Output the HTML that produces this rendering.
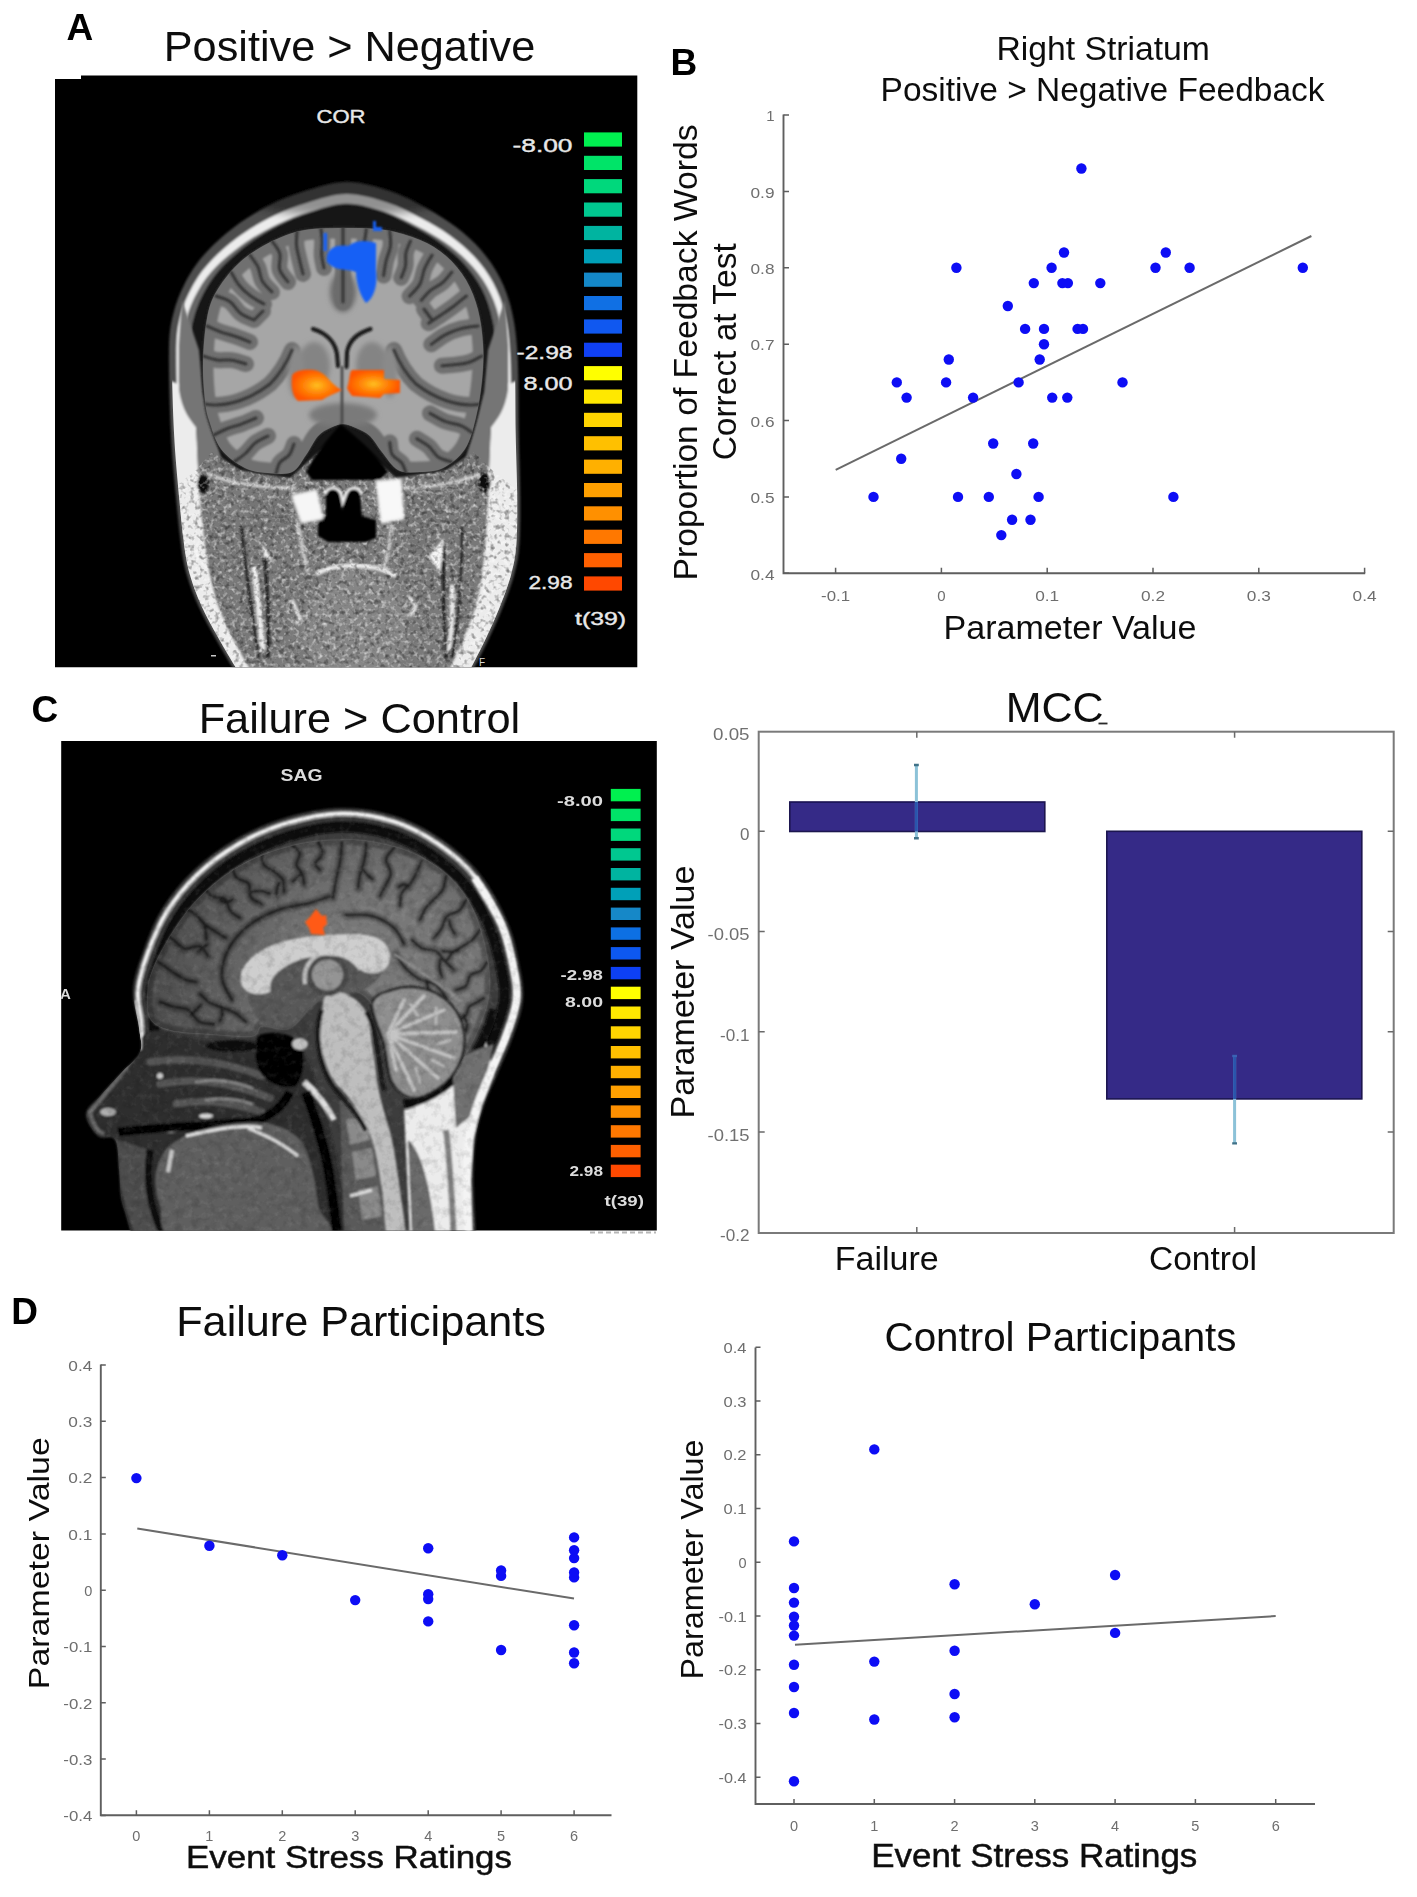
<!DOCTYPE html>
<html><head><meta charset="utf-8"><title>Figure</title>
<style>
html,body{margin:0;padding:0;background:#fff;}
body{width:1417px;height:1897px;overflow:hidden;font-family:"Liberation Sans",sans-serif;}
svg{display:block;position:absolute;left:0;top:0;}
text{font-family:"Liberation Sans",sans-serif;}
</style></head><body>
<svg width="1417" height="1897" viewBox="0 0 1417 1897">
<defs><filter id="soft" x="0" y="0" width="100%" height="100%" filterUnits="userSpaceOnUse"><feGaussianBlur stdDeviation="0.55"/></filter></defs>
<rect width="1417" height="1897" fill="#fff"/>
<g id="brainA">
<defs>
<filter id="bA" x="-5%" y="-5%" width="110%" height="110%"><feGaussianBlur stdDeviation="1.1"/></filter>
<filter id="bA2" x="-10%" y="-10%" width="120%" height="120%"><feGaussianBlur stdDeviation="2.4"/></filter>
<filter id="bA3" x="-20%" y="-20%" width="140%" height="140%"><feGaussianBlur stdDeviation="4"/></filter>
<filter id="nzA" x="0" y="0" width="100%" height="100%"><feTurbulence type="fractalNoise" baseFrequency="0.22" numOctaves="2" seed="7"/><feColorMatrix type="matrix" values="0 0 0 0 1  0 0 0 0 1  0 0 0 0 1  1.6 0 0 0 -0.78"/><feComposite in2="SourceGraphic" operator="in"/></filter>
<filter id="nzAd" x="0" y="0" width="100%" height="100%"><feTurbulence type="fractalNoise" baseFrequency="0.2" numOctaves="2" seed="23"/><feColorMatrix type="matrix" values="0 0 0 0 0  0 0 0 0 0  0 0 0 0 0  0 1.2 0 0 -0.6"/><feComposite in2="SourceGraphic" operator="in"/></filter>
<filter id="nzAf" x="0" y="0" width="100%" height="100%"><feTurbulence type="fractalNoise" baseFrequency="0.2" numOctaves="1" seed="3"/><feColorMatrix type="matrix" values="0 0 0 0 0.25  0 0 0 0 0.25  0 0 0 0 0.25  0 0 3.0 0 -1.25"/><feComposite in2="SourceGraphic" operator="in"/></filter>
<clipPath id="clA"><path d="M55 79H81V75.5H637.3V667.3H55Z"/></clipPath>
<clipPath id="headA"><path d="M233.0 668.0C230.2 663.2 221.7 649.2 216.0 639.0C210.3 628.8 203.8 617.7 199.0 607.0C194.2 596.3 190.0 585.5 187.0 575.0C184.0 564.5 182.8 557.2 181.0 544.0C179.2 530.8 177.7 514.5 176.0 496.0C174.3 477.5 172.2 457.0 171.0 433.0C169.8 409.0 168.7 371.7 169.0 352.0C169.3 332.3 170.3 326.5 173.0 315.0C175.7 303.5 179.8 293.1 185.0 283.0C190.2 272.9 195.7 264.1 204.0 254.7C212.3 245.3 224.0 234.8 235.0 226.5C246.0 218.2 258.3 210.9 270.0 205.0C281.7 199.1 292.2 194.8 305.0 191.0C317.8 187.2 332.8 182.0 347.0 182.0C361.2 182.0 376.8 186.7 390.0 191.0C403.2 195.3 415.0 202.0 426.0 208.0C437.0 214.0 446.8 220.0 456.0 227.0C465.2 234.0 473.7 241.5 481.0 250.0C488.3 258.5 494.8 267.7 500.0 278.0C505.2 288.3 509.1 299.0 512.0 312.0C514.9 325.0 516.5 335.8 517.6 356.0C518.7 376.2 518.3 409.7 518.7 433.0C519.1 456.3 520.1 477.5 520.2 496.0C520.3 514.5 520.4 530.8 519.4 544.0C518.4 557.2 516.8 564.5 514.0 575.0C511.2 585.5 507.0 596.3 502.8 607.0C498.6 617.7 493.4 628.8 488.6 639.0C483.8 649.2 476.4 663.2 474.0 668.0Z"/></clipPath>
<clipPath id="headAi"><path d="M236.0 668.0C233.2 663.2 224.7 649.2 219.0 639.0C213.3 628.8 206.8 617.7 202.0 607.0C197.2 596.3 193.0 585.5 190.0 575.0C187.0 564.5 185.8 557.2 184.0 544.0C182.2 530.8 180.7 514.5 179.0 496.0C177.3 477.5 175.2 456.9 174.0 433.0C172.8 409.1 171.7 372.0 172.0 352.5C172.3 333.0 173.2 327.4 175.8 316.1C178.4 304.8 182.5 294.5 187.6 284.6C192.6 274.7 198.0 266.0 206.2 256.7C214.4 247.4 225.9 237.1 236.7 228.9C247.6 220.8 259.7 213.6 271.2 207.8C282.6 201.9 293.0 197.7 305.6 193.9C318.2 190.1 333.0 185.0 346.9 185.0C360.9 185.0 376.3 189.6 389.3 193.9C402.2 198.2 413.9 204.8 424.7 210.7C435.5 216.6 445.2 222.5 454.2 229.4C463.2 236.3 471.6 243.7 478.8 252.1C486.0 260.4 492.4 269.5 497.5 279.6C502.6 289.8 506.4 300.3 509.2 313.1C512.1 325.9 513.5 336.4 514.6 356.4C515.7 376.4 515.3 409.7 515.7 433.0C516.1 456.3 517.1 477.5 517.2 496.0C517.3 514.5 517.4 530.8 516.4 544.0C515.4 557.2 513.8 564.5 511.0 575.0C508.2 585.5 504.0 596.3 499.8 607.0C495.6 617.7 490.4 628.8 485.6 639.0C480.8 649.2 473.4 663.2 471.0 668.0Z"/></clipPath>
<clipPath id="topA"><rect x="150" y="170" width="400" height="330"/></clipPath>
</defs>
<path d="M55 79H81V75.5H637.3V667.3H55Z" fill="#000"/>
<g clip-path="url(#clA)">
<g filter="url(#bA)">
<path d="M233.0 668.0C230.2 663.2 221.7 649.2 216.0 639.0C210.3 628.8 203.8 617.7 199.0 607.0C194.2 596.3 190.0 585.5 187.0 575.0C184.0 564.5 182.8 557.2 181.0 544.0C179.2 530.8 177.7 514.5 176.0 496.0C174.3 477.5 172.2 457.0 171.0 433.0C169.8 409.0 168.7 371.7 169.0 352.0C169.3 332.3 170.3 326.5 173.0 315.0C175.7 303.5 179.8 293.1 185.0 283.0C190.2 272.9 195.7 264.1 204.0 254.7C212.3 245.3 224.0 234.8 235.0 226.5C246.0 218.2 258.3 210.9 270.0 205.0C281.7 199.1 292.2 194.8 305.0 191.0C317.8 187.2 332.8 182.0 347.0 182.0C361.2 182.0 376.8 186.7 390.0 191.0C403.2 195.3 415.0 202.0 426.0 208.0C437.0 214.0 446.8 220.0 456.0 227.0C465.2 234.0 473.7 241.5 481.0 250.0C488.3 258.5 494.8 267.7 500.0 278.0C505.2 288.3 509.1 299.0 512.0 312.0C514.9 325.0 516.5 335.8 517.6 356.0C518.7 376.2 518.3 409.7 518.7 433.0C519.1 456.3 520.1 477.5 520.2 496.0C520.3 514.5 520.4 530.8 519.4 544.0C518.4 557.2 516.8 564.5 514.0 575.0C511.2 585.5 507.0 596.3 502.8 607.0C498.6 617.7 493.4 628.8 488.6 639.0C483.8 649.2 476.4 663.2 474.0 668.0Z" fill="#4e4e4e"/>
<g clip-path="url(#topA)">
<path d="M240.5 668.0C237.7 663.2 229.2 649.2 223.5 639.0C217.8 628.8 211.3 617.7 206.5 607.0C201.7 596.3 197.5 585.5 194.5 575.0C191.5 564.5 190.3 557.2 188.5 544.0C186.7 530.8 185.2 514.5 183.5 496.0C181.8 477.5 179.7 456.8 178.5 433.0C177.3 409.2 176.2 372.4 176.4 353.2C176.7 334.0 177.4 328.7 180.0 317.7C182.6 306.7 186.8 296.7 192.0 287.3C197.1 277.8 202.8 269.6 211.0 261.0C219.1 252.3 230.5 242.7 241.1 235.1C251.6 227.5 263.4 220.9 274.4 215.5C285.5 210.1 295.3 206.3 307.4 202.7C319.5 199.1 333.5 194.0 346.8 194.0C360.1 194.0 374.8 198.6 387.1 202.6C399.5 206.6 410.7 212.7 421.1 218.2C431.6 223.6 441.0 229.0 449.8 235.4C458.6 241.8 466.9 248.7 474.1 256.6C481.3 264.4 487.8 272.9 493.0 282.6C498.1 292.3 502.2 302.4 505.0 314.8C507.9 327.2 509.1 337.3 510.2 357.0C511.2 376.7 510.8 409.8 511.2 433.0C511.6 456.2 512.6 477.5 512.7 496.0C512.8 514.5 512.9 530.8 511.9 544.0C510.9 557.2 509.3 564.5 506.5 575.0C503.7 585.5 499.5 596.3 495.3 607.0C491.1 617.7 485.9 628.8 481.1 639.0C476.3 649.2 468.9 663.2 466.5 668.0Z" fill="#ececec"/>
<path d="M247.0 668.0C244.2 663.2 235.7 649.2 230.0 639.0C224.3 628.8 217.8 617.7 213.0 607.0C208.2 596.3 204.0 585.5 201.0 575.0C198.0 564.5 196.8 557.2 195.0 544.0C193.2 530.8 191.7 514.5 190.0 496.0C188.3 477.5 186.2 456.6 185.0 433.0C183.8 409.4 182.6 373.1 182.8 354.2C183.0 335.4 183.6 330.5 186.1 320.0C188.6 309.4 192.8 299.9 197.9 290.9C203.0 281.9 208.7 274.3 216.7 266.1C224.7 258.0 235.8 249.1 246.0 242.0C256.2 235.0 267.4 228.9 277.9 223.9C288.5 218.9 297.8 215.4 309.3 212.0C320.7 208.6 334.0 203.5 346.6 203.5C359.2 203.5 373.1 208.0 384.9 211.8C396.6 215.6 407.3 221.2 417.2 226.3C427.2 231.4 436.2 236.3 444.8 242.3C453.3 248.2 461.3 254.6 468.3 262.0C475.4 269.3 481.9 277.3 487.0 286.5C492.1 295.7 496.2 305.3 499.0 317.2C501.8 329.1 502.8 338.6 503.7 357.9C504.7 377.2 504.3 410.0 504.7 433.0C505.1 456.0 506.1 477.5 506.2 496.0C506.3 514.5 506.4 530.8 505.4 544.0C504.4 557.2 502.8 564.5 500.0 575.0C497.2 585.5 493.0 596.3 488.8 607.0C484.6 617.7 479.4 628.8 474.6 639.0C469.8 649.2 462.4 663.2 460.0 668.0Z" fill="#666"/>
<ellipse cx="345" cy="196" rx="105" ry="20" fill="#000" opacity="0.38" filter="url(#bA3)"/>
<path d="M254.0 668.0C251.2 663.2 242.7 649.2 237.0 639.0C231.3 628.8 224.8 617.7 220.0 607.0C215.2 596.3 211.0 585.5 208.0 575.0C205.0 564.5 203.8 557.2 202.0 544.0C200.2 530.8 198.7 514.5 197.0 496.0C195.3 477.5 193.2 456.4 192.0 433.0C190.8 409.6 189.6 373.7 189.7 355.3C189.8 336.9 190.4 332.7 192.6 322.5C194.9 312.3 198.5 303.0 203.1 294.1C207.7 285.2 212.7 277.4 220.1 269.1C227.5 260.9 237.9 251.7 247.7 244.5C257.5 237.2 268.3 230.8 278.6 225.6C288.9 220.3 298.2 216.5 309.5 213.0C320.8 209.5 334.1 204.5 346.6 204.5C359.1 204.5 373.0 208.9 384.6 212.8C396.3 216.8 406.7 222.8 416.4 228.1C426.1 233.4 434.8 238.6 443.0 244.7C451.1 250.9 458.7 257.4 465.2 264.9C471.8 272.4 477.6 280.5 482.2 289.6C486.7 298.8 490.1 308.3 492.5 319.9C495.0 331.4 495.9 340.0 496.8 358.9C497.7 377.7 497.3 410.1 497.7 433.0C498.1 455.9 499.1 477.5 499.2 496.0C499.3 514.5 499.4 530.8 498.4 544.0C497.4 557.2 495.8 564.5 493.0 575.0C490.2 585.5 486.0 596.3 481.8 607.0C477.6 617.7 472.4 628.8 467.6 639.0C462.8 649.2 455.4 663.2 453.0 668.0Z" fill="#161616"/>
</g>
</g>
<g clip-path="url(#headAi)">
<g filter="url(#bA)">
<path d="M196 470L212 452L240 470L290 478L343 430L396 478L446 470L474 452L492 470L530 500L530 680L160 680L160 500Z" fill="#7a7a7a"/>
</g>
<g filter="url(#bA)">
<path d="M168 380L179 384C180 400 186 414 196 427C198 450 198 480 200 500C204 540 208 575 218 605C228 632 240 652 252 672L225 672C200 640 185 600 178 560C172 500 168 440 168 380Z" fill="#ececec"/>
<path d="M519 380L508 384C507 400 501 414 491 427C489 450 489 480 488 500C486 540 484 575 476 605C468 632 458 652 448 672L480 672C502 640 514 600 518 560C522 500 521 440 519 380Z" fill="#ececec"/>
<path d="M182 300L179 345L179 390C182 410 190 420 196 427L198 470L209 476L225 470C219 451 213 430 203 392L199 350Z" fill="#747474"/>
<path d="M505 300L508 345L508 390C505 410 497 420 491 427L489 470L478 476L462 470C468 451 474 430 484 392L488 350Z" fill="#747474"/>
<path d="M206 500C208 550 216 600 240 652L262 656C250 610 244 560 242 522Z" fill="#787878"/>
<path d="M486 500C484 550 476 600 454 652L440 656C448 610 450 560 452 522Z" fill="#787878"/>
<path d="M241 526C246 575 252 620 259 658M264 552C268 590 269 625 268 658" stroke="#101010" stroke-width="2.6" fill="none"/>
<path d="M444 545C443 580 444 620 446 658M462 526C462 580 458 625 452 658" stroke="#101010" stroke-width="2.6" fill="none"/>
<path d="M254 566C258 600 260 625 263 650" stroke="#e8e8e8" stroke-width="5.5" fill="none"/>
<path d="M452 585C453 605 452 628 449 650" stroke="#e8e8e8" stroke-width="4" fill="none"/>
<path d="M429 556L444 538L440 572Z" fill="#f6f6f6"/>
<path d="M258 538L274 562L264 556Z" fill="#e8e8e8"/>
<path d="M208 474C232 484 262 488 296 488" stroke="#cfcfcf" stroke-width="3" fill="none"/>
<path d="M480 474C456 484 426 488 392 488" stroke="#cfcfcf" stroke-width="3" fill="none"/>
<ellipse cx="203" cy="484" rx="6" ry="9" fill="#080808"/>
<ellipse cx="484.5" cy="483" rx="6" ry="10" fill="#080808"/>
<path d="M246 496L292 494L296 530L270 548L250 530Z" fill="#747474"/>
<path d="M440 496L398 492L392 530L416 552L436 530Z" fill="#747474"/>
<path d="M298 524C302 545 304 560 308 572M392 524C390 545 386 560 384 572" stroke="#c4c4c4" stroke-width="4" fill="none"/>
<ellipse cx="356" cy="628" rx="54" ry="60" fill="#868686"/>
<path d="M316 574C336 563 372 562 396 576" stroke="#e6e6e6" stroke-width="4.5" fill="none"/>
<path d="M292 600L300 618L296 624M408 596L416 606L410 616" stroke="#e0e0e0" stroke-width="3.5" fill="none"/>
</g>
<g filter="url(#nzA)"><path d="M196 470L212 452L240 470L290 478L343 430L396 478L446 470L474 452L492 470L530 500L530 680L160 680L160 500Z"/></g>
<g filter="url(#nzAd)"><path d="M196 470L212 452L240 470L290 478L343 430L396 478L446 470L474 452L492 470L530 500L530 680L160 680L160 500Z"/></g>
</g>
<clipPath id="brA"><path d="M343.0 228.0C328.8 228.2 313.3 228.0 300.0 231.0C286.7 234.0 273.8 240.0 263.0 246.0C252.2 252.0 243.2 258.5 235.0 267.0C226.8 275.5 218.3 287.3 213.5 297.0C208.7 306.7 207.8 313.7 206.0 325.0C204.2 336.3 203.2 352.5 203.0 365.0C202.8 377.5 204.0 390.8 205.0 400.0C206.0 409.2 206.3 411.8 209.0 420.0C211.7 428.2 215.0 441.0 221.0 449.0C227.0 457.0 237.2 464.0 245.0 468.0C252.8 472.0 260.2 472.3 268.0 473.0C275.8 473.7 285.7 475.0 292.0 472.0C298.3 469.0 301.7 461.0 306.0 455.0C310.3 449.0 314.0 440.5 318.0 436.0C322.0 431.5 325.8 430.0 330.0 428.0C334.2 426.0 338.7 424.0 343.0 424.0C347.3 424.0 351.5 426.0 356.0 428.0C360.5 430.0 365.7 432.0 370.0 436.0C374.3 440.0 377.3 446.3 382.0 452.0C386.7 457.7 391.7 466.7 398.0 470.0C404.3 473.3 412.5 472.3 420.0 472.0C427.5 471.7 435.5 471.8 443.0 468.0C450.5 464.2 459.5 457.5 465.0 449.0C470.5 440.5 473.2 428.5 476.0 417.0C478.8 405.5 480.8 392.0 482.0 380.0C483.2 368.0 483.7 356.7 483.0 345.0C482.3 333.3 480.8 320.8 478.0 310.0C475.2 299.2 471.3 289.0 466.0 280.0C460.7 271.0 453.7 262.7 446.0 256.0C438.3 249.3 430.2 244.3 420.0 240.0C409.8 235.7 397.8 232.0 385.0 230.0C372.2 228.0 357.2 227.8 343.0 228.0Z"/></clipPath>
<g filter="url(#bA)">
<path d="M343.0 228.0C328.8 228.2 313.3 228.0 300.0 231.0C286.7 234.0 273.8 240.0 263.0 246.0C252.2 252.0 243.2 258.5 235.0 267.0C226.8 275.5 218.3 287.3 213.5 297.0C208.7 306.7 207.8 313.7 206.0 325.0C204.2 336.3 203.2 352.5 203.0 365.0C202.8 377.5 204.0 390.8 205.0 400.0C206.0 409.2 206.3 411.8 209.0 420.0C211.7 428.2 215.0 441.0 221.0 449.0C227.0 457.0 237.2 464.0 245.0 468.0C252.8 472.0 260.2 472.3 268.0 473.0C275.8 473.7 285.7 475.0 292.0 472.0C298.3 469.0 301.7 461.0 306.0 455.0C310.3 449.0 314.0 440.5 318.0 436.0C322.0 431.5 325.8 430.0 330.0 428.0C334.2 426.0 338.7 424.0 343.0 424.0C347.3 424.0 351.5 426.0 356.0 428.0C360.5 430.0 365.7 432.0 370.0 436.0C374.3 440.0 377.3 446.3 382.0 452.0C386.7 457.7 391.7 466.7 398.0 470.0C404.3 473.3 412.5 472.3 420.0 472.0C427.5 471.7 435.5 471.8 443.0 468.0C450.5 464.2 459.5 457.5 465.0 449.0C470.5 440.5 473.2 428.5 476.0 417.0C478.8 405.5 480.8 392.0 482.0 380.0C483.2 368.0 483.7 356.7 483.0 345.0C482.3 333.3 480.8 320.8 478.0 310.0C475.2 299.2 471.3 289.0 466.0 280.0C460.7 271.0 453.7 262.7 446.0 256.0C438.3 249.3 430.2 244.3 420.0 240.0C409.8 235.7 397.8 232.0 385.0 230.0C372.2 228.0 357.2 227.8 343.0 228.0Z" fill="#a6a6a6" stroke="#222" stroke-width="2.5"/>
</g>
<g clip-path="url(#brA)">
<g filter="url(#bA)">
<path d="M343.0 228.0C328.8 228.2 313.3 228.0 300.0 231.0C286.7 234.0 273.8 240.0 263.0 246.0C252.2 252.0 243.2 258.5 235.0 267.0C226.8 275.5 218.3 287.3 213.5 297.0C208.7 306.7 207.8 313.7 206.0 325.0C204.2 336.3 203.2 352.5 203.0 365.0C202.8 377.5 204.0 390.8 205.0 400.0C206.0 409.2 206.3 411.8 209.0 420.0C211.7 428.2 215.0 441.0 221.0 449.0C227.0 457.0 237.2 464.0 245.0 468.0C252.8 472.0 260.2 472.3 268.0 473.0C275.8 473.7 285.7 475.0 292.0 472.0C298.3 469.0 301.7 461.0 306.0 455.0C310.3 449.0 314.0 440.5 318.0 436.0C322.0 431.5 325.8 430.0 330.0 428.0C334.2 426.0 338.7 424.0 343.0 424.0C347.3 424.0 351.5 426.0 356.0 428.0C360.5 430.0 365.7 432.0 370.0 436.0C374.3 440.0 377.3 446.3 382.0 452.0C386.7 457.7 391.7 466.7 398.0 470.0C404.3 473.3 412.5 472.3 420.0 472.0C427.5 471.7 435.5 471.8 443.0 468.0C450.5 464.2 459.5 457.5 465.0 449.0C470.5 440.5 473.2 428.5 476.0 417.0C478.8 405.5 480.8 392.0 482.0 380.0C483.2 368.0 483.7 356.7 483.0 345.0C482.3 333.3 480.8 320.8 478.0 310.0C475.2 299.2 471.3 289.0 466.0 280.0C460.7 271.0 453.7 262.7 446.0 256.0C438.3 249.3 430.2 244.3 420.0 240.0C409.8 235.7 397.8 232.0 385.0 230.0C372.2 228.0 357.2 227.8 343.0 228.0Z" fill="none" stroke="#707070" stroke-width="21"/>
<path d="M343 226V302M205 404C228 408 252 398 270 384C282 372 288 360 292 350M481 404C458 408 434 398 416 384C404 372 398 360 394 350M321.0 229.0C321.2 231.2 322.1 237.6 322.2 242.0C322.3 246.3 321.4 250.8 321.7 255.1C322.0 259.4 323.6 265.8 324.0 268.0M366.3 229.0C366.1 230.9 365.3 236.7 364.7 240.6C364.1 244.5 363.9 248.4 362.8 252.1C361.8 255.9 359.2 261.3 358.4 263.1M297.0 231.0C296.9 233.4 296.1 240.9 296.5 245.7C297.0 250.5 298.4 255.2 299.5 259.9C300.6 264.6 302.4 271.6 303.0 274.0M389.8 231.0C389.9 233.5 391.2 241.3 390.5 246.3C389.9 251.2 387.3 255.9 386.1 260.8C385.0 265.7 384.0 273.1 383.6 275.6M272.0 241.0C273.3 243.1 278.6 248.9 279.9 253.7C281.1 258.4 278.3 264.8 279.6 269.5C281.0 274.2 286.6 279.9 288.0 282.0M410.5 241.0C409.7 243.0 406.7 248.7 405.9 252.9C405.1 257.0 406.3 261.7 405.5 265.8C404.8 270.0 401.9 275.8 401.2 277.7M250.0 255.0C251.3 257.0 255.9 262.6 258.0 266.9C260.0 271.3 260.0 276.9 262.3 281.1C264.6 285.2 270.4 290.2 272.0 292.0M432.1 255.0C430.9 257.3 426.6 263.8 424.6 268.7C422.5 273.5 422.5 279.4 420.0 284.0C417.5 288.6 411.3 294.1 409.6 296.2M231.0 272.0C232.4 274.2 236.0 281.5 239.3 285.5C242.5 289.4 246.4 292.8 250.5 295.9C254.6 299.0 261.8 302.6 264.0 304.0M451.9 272.0C450.4 273.8 446.2 279.5 442.7 282.6C439.2 285.6 434.4 287.2 430.8 290.2C427.2 293.2 422.8 298.7 421.2 300.4M216.0 296.0C218.4 297.0 226.0 298.8 230.1 301.7C234.2 304.6 236.5 310.3 240.5 313.3C244.5 316.4 251.7 318.9 254.0 320.0M466.4 296.0C464.4 297.6 458.4 302.6 454.3 305.7C450.2 308.8 445.9 311.7 441.7 314.6C437.4 317.5 430.9 321.7 428.7 323.2M207.0 326.0C209.3 327.0 216.3 330.3 221.1 332.1C225.9 333.8 230.9 334.8 235.7 336.5C240.6 338.2 247.6 341.1 250.0 342.0M478.1 326.0C475.3 326.4 466.6 327.2 461.1 328.6C455.7 330.0 450.5 332.0 445.5 334.6C440.5 337.2 433.7 342.7 431.3 344.3M203.0 356.0C205.3 356.7 212.3 359.3 217.1 360.0C221.9 360.7 227.1 359.5 231.9 360.2C236.7 360.9 243.6 363.4 246.0 364.0M481.9 356.0C479.8 357.0 473.7 360.8 469.3 362.2C464.9 363.7 460.3 364.0 455.7 364.6C451.2 365.1 444.2 365.5 441.9 365.7M212.0 436.0C214.4 434.8 221.4 431.0 226.3 429.0C231.1 427.0 236.4 425.9 241.4 424.1C246.3 422.3 253.6 419.0 256.0 418.0M476.5 436.0C474.1 434.4 467.3 428.5 462.1 426.1C456.9 423.7 450.6 423.5 445.2 421.4C439.9 419.2 432.5 414.6 430.0 413.3M234.0 462.0C235.9 460.6 241.9 456.6 245.4 453.5C249.0 450.3 251.6 445.8 255.3 442.9C259.1 440.0 265.9 437.2 268.0 436.0M451.4 462.0C449.2 461.1 441.9 459.5 438.1 456.9C434.3 454.2 432.2 449.2 428.6 446.1C425.1 443.1 418.8 440.0 416.9 438.7M276.0 474.0C276.6 472.1 277.6 465.9 279.8 462.7C282.0 459.5 287.0 457.9 289.3 454.8C291.7 451.7 293.2 445.8 294.0 444.0M406.3 474.0C405.5 472.2 404.1 466.2 401.8 463.0C399.4 459.7 394.1 458.0 392.1 454.6C390.1 451.2 390.2 444.5 389.8 442.4M254 320L263 311M432 320L424 309" stroke="#707070" stroke-width="16" fill="none" stroke-linecap="round" stroke-linejoin="round"/>
</g>
<g filter="url(#bA2)" fill="#848484">
<ellipse cx="314" cy="366" rx="16" ry="24"/><ellipse cx="372" cy="366" rx="16" ry="24"/>
<ellipse cx="296" cy="372" rx="8" ry="26" fill="#8a8a8a"/><ellipse cx="390" cy="372" rx="8" ry="26" fill="#8a8a8a"/>
<ellipse cx="343" cy="292" rx="13" ry="20" fill="#6c6c6c"/>
<ellipse cx="343" cy="415" rx="34" ry="12" fill="#7a7a7a"/>
</g>
<g filter="url(#bA)">
<path d="M343 226V302M205 404C228 408 252 398 270 384C282 372 288 360 292 350M481 404C458 408 434 398 416 384C404 372 398 360 394 350M321.0 229.0C321.2 231.2 322.1 237.6 322.2 242.0C322.3 246.3 321.4 250.8 321.7 255.1C322.0 259.4 323.6 265.8 324.0 268.0M366.3 229.0C366.1 230.9 365.3 236.7 364.7 240.6C364.1 244.5 363.9 248.4 362.8 252.1C361.8 255.9 359.2 261.3 358.4 263.1M297.0 231.0C296.9 233.4 296.1 240.9 296.5 245.7C297.0 250.5 298.4 255.2 299.5 259.9C300.6 264.6 302.4 271.6 303.0 274.0M389.8 231.0C389.9 233.5 391.2 241.3 390.5 246.3C389.9 251.2 387.3 255.9 386.1 260.8C385.0 265.7 384.0 273.1 383.6 275.6M272.0 241.0C273.3 243.1 278.6 248.9 279.9 253.7C281.1 258.4 278.3 264.8 279.6 269.5C281.0 274.2 286.6 279.9 288.0 282.0M410.5 241.0C409.7 243.0 406.7 248.7 405.9 252.9C405.1 257.0 406.3 261.7 405.5 265.8C404.8 270.0 401.9 275.8 401.2 277.7M250.0 255.0C251.3 257.0 255.9 262.6 258.0 266.9C260.0 271.3 260.0 276.9 262.3 281.1C264.6 285.2 270.4 290.2 272.0 292.0M432.1 255.0C430.9 257.3 426.6 263.8 424.6 268.7C422.5 273.5 422.5 279.4 420.0 284.0C417.5 288.6 411.3 294.1 409.6 296.2M231.0 272.0C232.4 274.2 236.0 281.5 239.3 285.5C242.5 289.4 246.4 292.8 250.5 295.9C254.6 299.0 261.8 302.6 264.0 304.0M451.9 272.0C450.4 273.8 446.2 279.5 442.7 282.6C439.2 285.6 434.4 287.2 430.8 290.2C427.2 293.2 422.8 298.7 421.2 300.4M216.0 296.0C218.4 297.0 226.0 298.8 230.1 301.7C234.2 304.6 236.5 310.3 240.5 313.3C244.5 316.4 251.7 318.9 254.0 320.0M466.4 296.0C464.4 297.6 458.4 302.6 454.3 305.7C450.2 308.8 445.9 311.7 441.7 314.6C437.4 317.5 430.9 321.7 428.7 323.2M207.0 326.0C209.3 327.0 216.3 330.3 221.1 332.1C225.9 333.8 230.9 334.8 235.7 336.5C240.6 338.2 247.6 341.1 250.0 342.0M478.1 326.0C475.3 326.4 466.6 327.2 461.1 328.6C455.7 330.0 450.5 332.0 445.5 334.6C440.5 337.2 433.7 342.7 431.3 344.3M203.0 356.0C205.3 356.7 212.3 359.3 217.1 360.0C221.9 360.7 227.1 359.5 231.9 360.2C236.7 360.9 243.6 363.4 246.0 364.0M481.9 356.0C479.8 357.0 473.7 360.8 469.3 362.2C464.9 363.7 460.3 364.0 455.7 364.6C451.2 365.1 444.2 365.5 441.9 365.7M212.0 436.0C214.4 434.8 221.4 431.0 226.3 429.0C231.1 427.0 236.4 425.9 241.4 424.1C246.3 422.3 253.6 419.0 256.0 418.0M476.5 436.0C474.1 434.4 467.3 428.5 462.1 426.1C456.9 423.7 450.6 423.5 445.2 421.4C439.9 419.2 432.5 414.6 430.0 413.3M234.0 462.0C235.9 460.6 241.9 456.6 245.4 453.5C249.0 450.3 251.6 445.8 255.3 442.9C259.1 440.0 265.9 437.2 268.0 436.0M451.4 462.0C449.2 461.1 441.9 459.5 438.1 456.9C434.3 454.2 432.2 449.2 428.6 446.1C425.1 443.1 418.8 440.0 416.9 438.7M276.0 474.0C276.6 472.1 277.6 465.9 279.8 462.7C282.0 459.5 287.0 457.9 289.3 454.8C291.7 451.7 293.2 445.8 294.0 444.0M406.3 474.0C405.5 472.2 404.1 466.2 401.8 463.0C399.4 459.7 394.1 458.0 392.1 454.6C390.1 451.2 390.2 444.5 389.8 442.4M254 320L263 311M432 320L424 309" stroke="#343434" stroke-width="3" fill="none" stroke-linecap="round" stroke-linejoin="round"/>
<path d="M313 329C326 333 335 342 337 354L338 366M370.5 329C358 333 349 341 347 352L346.5 367" stroke="#141414" stroke-width="4" fill="none" stroke-linecap="round"/>
<path d="M342 366V424" stroke="#444" stroke-width="2.5"/>
</g>
</g>
<g filter="url(#bA)">
<path d="M341 424C330 436 316 452 306 472L312 480H380L388 472C376 452 354 436 341 424Z" fill="#020202"/>
<path d="M326 492C328 488 338 488 340 494L342 510L346 494C348 488 358 488 360 494L362 516L376 520V538L366 542H328L318 536V522L326 516Z" fill="#020202"/>
<path d="M325 494C328 486 338 486 341 494L343 502L346 494C349 486 359 486 362 494" stroke="#f0f0f0" stroke-width="2.6" fill="none"/>
<path d="M293 496L316 491L322 518L302 522Z" fill="#f6f6f6" stroke="#f6f6f6" stroke-width="3" stroke-linejoin="round" filter="url(#bA)"/>
<path d="M377 482L400 480L403 518L382 522Z" fill="#f8f8f8" stroke="#f8f8f8" stroke-width="3" stroke-linejoin="round" filter="url(#bA)"/>
</g>
<g filter="url(#bA)">
<path d="M327 262C325 250 334 244 348 246C356 240 366 240 376 243L376 270C378 285 374 298 366 303C360 296 356 282 356 272C346 268 336 272 327 262Z" fill="#1560f5"/>
<rect x="323.5" y="233" width="3.5" height="18" fill="#1560f5"/><path d="M373 221V231H382V227H376V221Z" fill="#1560f5"/>
</g>
<defs><radialGradient id="ogA"><stop offset="0" stop-color="#ffc020"/><stop offset="0.45" stop-color="#ff8a08"/><stop offset="1" stop-color="#ff5400"/></radialGradient></defs>
<g filter="url(#bA)">
<path d="M292 376C294 369 312 369 318 371C328 375 330 384 342 390C334 394 328 396 322 400L298 401C292 396 291 386 292 376Z" fill="url(#ogA)"/>
<path d="M347 388C350 380 349 372 352 370L384 370V379L400 380V393L384 394L380 398L352 396C350 393 348 391 347 388Z" fill="url(#ogA)"/>
</g>
<rect x="584" y="132.4" width="38" height="14.2" fill="#00f050"/>
<rect x="584" y="155.8" width="38" height="14.2" fill="#00e468"/>
<rect x="584" y="179.1" width="38" height="14.2" fill="#00d87c"/>
<rect x="584" y="202.5" width="38" height="14.2" fill="#00c890"/>
<rect x="584" y="225.9" width="38" height="14.2" fill="#00b4a0"/>
<rect x="584" y="249.2" width="38" height="14.2" fill="#00a0b8"/>
<rect x="584" y="272.6" width="38" height="14.2" fill="#1488c8"/>
<rect x="584" y="296.0" width="38" height="14.2" fill="#1070e4"/>
<rect x="584" y="319.4" width="38" height="14.2" fill="#1058f0"/>
<rect x="584" y="342.7" width="38" height="14.2" fill="#1040f4"/>
<rect x="584" y="366.1" width="38" height="14.2" fill="#ffff00"/>
<rect x="584" y="389.5" width="38" height="14.2" fill="#ffe800"/>
<rect x="584" y="412.8" width="38" height="14.2" fill="#ffd400"/>
<rect x="584" y="436.2" width="38" height="14.2" fill="#ffc000"/>
<rect x="584" y="459.6" width="38" height="14.2" fill="#ffb000"/>
<rect x="584" y="483.0" width="38" height="14.2" fill="#ffa000"/>
<rect x="584" y="506.3" width="38" height="14.2" fill="#ff9000"/>
<rect x="584" y="529.7" width="38" height="14.2" fill="#ff7800"/>
<rect x="584" y="553.1" width="38" height="14.2" fill="#ff6000"/>
<rect x="584" y="576.4" width="38" height="14.2" fill="#ff4800"/>
<text x="572.5" y="152" font-size="19" fill="#e8e8e8" text-anchor="end" textLength="60" lengthAdjust="spacingAndGlyphs" stroke="#e8e8e8" stroke-width="0.4">-8.00</text>
<text x="572.5" y="359" font-size="19" fill="#e8e8e8" text-anchor="end" textLength="56" lengthAdjust="spacingAndGlyphs" stroke="#e8e8e8" stroke-width="0.4">-2.98</text>
<text x="572.5" y="390" font-size="19" fill="#e8e8e8" text-anchor="end" textLength="49" lengthAdjust="spacingAndGlyphs" stroke="#e8e8e8" stroke-width="0.4">8.00</text>
<text x="572.5" y="589.3" font-size="19" fill="#e8e8e8" text-anchor="end" textLength="44" lengthAdjust="spacingAndGlyphs" stroke="#e8e8e8" stroke-width="0.4">2.98</text>
<text x="626" y="625" font-size="19" fill="#e8e8e8" text-anchor="end" textLength="51" lengthAdjust="spacingAndGlyphs" stroke="#e8e8e8" stroke-width="0.4">t(39)</text>
<text x="341" y="123.3" font-size="18.5" fill="#e8e8e8" text-anchor="middle" textLength="49" lengthAdjust="spacingAndGlyphs" stroke="#e8e8e8" stroke-width="0.4">COR</text>
<text x="479" y="666" font-size="10" fill="#d8d8d8">F</text><rect x="211" y="655" width="5" height="1.5" fill="#c8c8c8"/>
</g>
</g>
<g id="brainC">
<defs>
<filter id="bC" x="-5%" y="-5%" width="110%" height="110%"><feGaussianBlur stdDeviation="1.2"/></filter>
<filter id="bC2" x="-10%" y="-10%" width="120%" height="120%"><feGaussianBlur stdDeviation="2.5"/></filter>
<filter id="nzC" x="0" y="0" width="100%" height="100%"><feTurbulence type="fractalNoise" baseFrequency="0.15" numOctaves="3" seed="11"/><feColorMatrix type="matrix" values="0 0 0 0 1  0 0 0 0 1  0 0 0 0 1  1.4 0 0 0 -0.7"/><feComposite in2="SourceGraphic" operator="in"/></filter>
<filter id="nzCd" x="0" y="0" width="100%" height="100%"><feTurbulence type="fractalNoise" baseFrequency="0.12" numOctaves="3" seed="31"/><feColorMatrix type="matrix" values="0 0 0 0 0  0 0 0 0 0  0 0 0 0 0  0 1.4 0 0 -0.62"/><feComposite in2="SourceGraphic" operator="in"/></filter>
<clipPath id="clC"><rect x="61.2" y="741" width="595.6" height="489.5"/></clipPath>
<clipPath id="headC"><path d="M132.0 1236.0C131.0 1232.5 127.8 1221.5 126.0 1215.0C124.2 1208.5 122.2 1204.5 121.0 1197.0C119.8 1189.5 120.0 1179.5 119.0 1170.0C118.0 1160.5 118.5 1145.7 115.0 1140.0C111.5 1134.3 102.8 1140.3 98.0 1136.0C93.2 1131.7 85.7 1120.7 86.0 1114.0C86.3 1107.3 94.0 1103.0 100.0 1096.0C106.0 1089.0 115.3 1079.3 122.0 1072.0C128.7 1064.7 137.2 1059.3 140.0 1052.0C142.8 1044.7 140.2 1038.3 139.0 1028.0C137.8 1017.7 132.3 1002.7 133.0 990.0C133.7 977.3 138.2 965.5 143.0 952.0C147.8 938.5 153.5 922.7 162.0 909.0C170.5 895.3 181.7 881.7 194.0 870.0C206.3 858.3 220.7 847.8 236.0 839.0C251.3 830.2 268.3 822.7 286.0 817.5C303.7 812.3 323.8 808.2 342.0 808.0C360.2 807.8 378.5 810.8 395.0 816.0C411.5 821.2 426.8 829.3 441.0 839.0C455.2 848.7 468.8 860.0 480.0 874.0C491.2 888.0 501.3 907.3 508.0 923.0C514.7 938.7 517.5 955.2 520.0 968.0C522.5 980.8 524.0 989.0 523.0 1000.0C522.0 1011.0 518.3 1021.5 514.0 1034.0C509.7 1046.5 502.0 1063.0 497.0 1075.0C492.0 1087.0 487.5 1095.5 484.0 1106.0C480.5 1116.5 477.8 1125.7 476.0 1138.0C474.2 1150.3 473.5 1163.7 473.5 1180.0C473.5 1196.3 475.6 1226.7 476.0 1236.0Z"/></clipPath>
</defs>
<rect x="61.2" y="741" width="595.6" height="489.5" fill="#000"/>
<g clip-path="url(#clC)">
<g filter="url(#bC)">
<path d="M132.0 1236.0C131.0 1232.5 127.8 1221.5 126.0 1215.0C124.2 1208.5 122.2 1204.5 121.0 1197.0C119.8 1189.5 120.0 1179.5 119.0 1170.0C118.0 1160.5 118.5 1145.7 115.0 1140.0C111.5 1134.3 102.8 1140.3 98.0 1136.0C93.2 1131.7 85.7 1120.7 86.0 1114.0C86.3 1107.3 94.0 1103.0 100.0 1096.0C106.0 1089.0 115.3 1079.3 122.0 1072.0C128.7 1064.7 137.2 1059.3 140.0 1052.0C142.8 1044.7 140.2 1038.3 139.0 1028.0C137.8 1017.7 132.3 1002.7 133.0 990.0C133.7 977.3 138.2 965.5 143.0 952.0C147.8 938.5 153.5 922.7 162.0 909.0C170.5 895.3 181.7 881.7 194.0 870.0C206.3 858.3 220.7 847.8 236.0 839.0C251.3 830.2 268.3 822.7 286.0 817.5C303.7 812.3 323.8 808.2 342.0 808.0C360.2 807.8 378.5 810.8 395.0 816.0C411.5 821.2 426.8 829.3 441.0 839.0C455.2 848.7 468.8 860.0 480.0 874.0C491.2 888.0 501.3 907.3 508.0 923.0C514.7 938.7 517.5 955.2 520.0 968.0C522.5 980.8 524.0 989.0 523.0 1000.0C522.0 1011.0 518.3 1021.5 514.0 1034.0C509.7 1046.5 502.0 1063.0 497.0 1075.0C492.0 1087.0 487.5 1095.5 484.0 1106.0C480.5 1116.5 477.8 1125.7 476.0 1138.0C474.2 1150.3 473.5 1163.7 473.5 1180.0C473.5 1196.3 475.6 1226.7 476.0 1236.0Z" fill="#3c3c3c"/>
</g>
<g clip-path="url(#headC)">
<g filter="url(#bC)">
<path d="M141.9 1039.5C141.8 1036.2 141.6 1027.9 141.0 1019.6C140.3 1011.4 136.8 1001.2 138.0 989.9C139.2 978.7 143.2 965.4 148.0 952.3C152.8 939.3 158.6 924.8 166.8 911.8C175.1 898.8 185.5 885.6 197.6 874.3C209.6 862.9 224.1 852.2 239.1 843.7C254.1 835.1 270.4 827.9 287.6 822.9C304.7 817.9 324.3 813.8 341.9 813.5C359.5 813.2 377.3 816.4 393.3 821.4C409.3 826.4 424.1 834.3 437.8 843.6C451.5 852.9 464.6 863.7 475.4 877.2C486.2 890.7 496.1 909.5 502.6 924.7C509.1 939.8 512.0 955.7 514.5 968.2C517.0 980.7 518.6 989.0 517.5 999.8C516.4 1010.7 512.5 1021.1 508.1 1033.5C503.7 1045.8 496.0 1061.9 491.0 1074.0C486.0 1086.1 481.5 1095.3 478.0 1106.0C474.5 1116.7 471.8 1125.7 470.0 1138.0C468.2 1150.3 467.7 1163.7 467.5 1180.0C467.3 1196.3 468.8 1226.7 469.0 1236.0" fill="none" stroke="#eeeeee" stroke-width="4.5"/>
<path d="M147.7 1037.8C147.6 1034.6 147.5 1026.6 146.9 1018.6C146.3 1010.6 142.8 1000.7 144.0 989.8C145.2 978.9 149.2 966.0 153.9 953.4C158.6 940.8 164.3 926.8 172.3 914.2C180.4 901.6 190.5 888.9 202.2 878.0C213.9 867.1 228.0 856.8 242.5 848.6C257.0 840.4 272.7 833.5 289.2 828.7C305.8 823.8 324.7 819.8 341.7 819.5C358.7 819.2 375.9 822.2 391.3 827.0C406.7 831.9 421.1 839.5 434.3 848.5C447.5 857.4 460.2 867.8 470.7 880.9C481.1 893.9 490.7 912.1 497.0 926.7C503.3 941.4 506.1 956.6 508.5 968.7C511.0 980.9 512.6 988.8 511.5 999.4C510.5 1009.9 506.7 1019.4 502.3 1031.8C497.9 1044.3 490.0 1061.6 485.0 1074.0C480.0 1086.4 475.5 1095.3 472.0 1106.0C468.5 1116.7 465.8 1125.7 464.0 1138.0C462.2 1150.3 461.7 1163.7 461.5 1180.0C461.3 1196.3 462.8 1226.7 463.0 1236.0" fill="none" stroke="#3a3a3a" stroke-width="5"/>
<path d="M154.4 1035.9C154.3 1032.8 154.3 1025.1 153.8 1017.4C153.2 1009.6 149.8 1000.1 151.0 989.6C152.2 979.2 156.2 966.7 160.8 954.6C165.4 942.5 170.9 929.0 178.8 917.0C186.6 905.0 196.4 892.8 207.7 882.4C219.0 872.0 232.5 862.2 246.4 854.4C260.3 846.6 275.4 840.1 291.2 835.4C307.0 830.7 325.1 826.8 341.4 826.5C357.7 826.2 374.2 829.0 389.0 833.6C403.8 838.2 417.5 845.5 430.2 854.1C442.9 862.7 455.1 872.6 465.1 885.1C475.1 897.6 484.3 915.0 490.4 929.1C496.5 943.1 499.2 957.8 501.6 969.4C503.9 981.0 505.6 988.7 504.5 998.8C503.5 1008.9 500.0 1017.4 495.6 1030.0C491.1 1042.5 483.1 1061.3 478.0 1074.0C472.9 1086.7 468.5 1095.3 465.0 1106.0C461.5 1116.7 458.8 1125.7 457.0 1138.0C455.2 1150.3 454.7 1163.7 454.5 1180.0C454.3 1196.3 455.8 1226.7 456.0 1236.0" fill="none" stroke="#0e0e0e" stroke-width="11"/>
</g>
<g filter="url(#bC)">
<path d="M140.0 1040.0C146.3 1032.7 150.0 1030.0 160.0 1030.0C170.0 1030.0 184.0 1038.3 200.0 1040.0C216.0 1041.7 239.3 1038.3 256.0 1040.0C272.7 1041.7 289.7 1041.7 300.0 1050.0C310.3 1058.3 313.0 1076.7 318.0 1090.0C323.0 1103.3 326.3 1115.0 330.0 1130.0C333.7 1145.0 337.5 1162.3 340.0 1180.0C342.5 1197.7 380.3 1226.7 345.0 1236.0C309.7 1245.3 165.5 1243.7 128.0 1236.0C90.5 1228.3 122.0 1206.0 120.0 1190.0C118.0 1174.0 119.7 1149.3 116.0 1140.0C112.3 1130.7 102.7 1138.3 98.0 1134.0C93.3 1129.7 84.0 1124.0 88.0 1114.0C92.0 1104.0 113.3 1086.3 122.0 1074.0C130.7 1061.7 133.7 1047.3 140.0 1040.0Z" fill="#2e2e2e"/>
<path d="M150 1062C190 1056 230 1064 262 1076M160 1084C200 1076 240 1086 270 1098M176 1104C210 1098 236 1104 262 1112" stroke="#565656" stroke-width="7" fill="none" stroke-linecap="round"/>
<path d="M196 1082C216 1078 236 1082 252 1088M206 1100C222 1097 240 1100 252 1104" stroke="#8a8a8a" stroke-width="2.5" fill="none" stroke-linecap="round"/>
<path d="M140 1040C134 1062 112 1086 90 1112C92 1124 98 1132 104 1134" stroke="#6a6a6a" stroke-width="4" fill="none"/>
<path d="M136 1000C138 1020 142 1036 140 1050" stroke="#c8c8c8" stroke-width="3" fill="none"/>
<ellipse cx="108" cy="1112" rx="8" ry="4" fill="#b0b0b0"/>
<circle cx="160" cy="1076" r="3" fill="#d0d0d0"/><ellipse cx="206" cy="1116" rx="7" ry="2.5" fill="#d8d8d8"/><ellipse cx="170" cy="1130" rx="8" ry="3" fill="#9a9a9a"/>
<path d="M118 1132C150 1128 200 1126 250 1122C270 1118 282 1108 290 1092" stroke="#060606" stroke-width="9" fill="none"/>
<path d="M116 1140C120 1160 118 1180 124 1200C128 1216 132 1228 136 1236L160 1236C150 1210 146 1180 150 1150Z" fill="#4e4e4e"/>
<path d="M150 1150C146 1180 150 1210 164 1236" stroke="#0a0a0a" stroke-width="7" fill="none"/>
<path d="M166.0 1150.0C171.7 1143.2 179.3 1138.3 190.0 1134.0C200.7 1129.7 216.7 1125.7 230.0 1124.0C243.3 1122.3 258.3 1121.3 270.0 1124.0C281.7 1126.7 293.0 1132.3 300.0 1140.0C307.0 1147.7 309.0 1159.2 312.0 1170.0C315.0 1180.8 316.3 1193.3 318.0 1205.0C319.7 1216.7 345.0 1234.2 322.0 1240.0C299.0 1245.8 207.0 1245.8 180.0 1240.0C153.0 1234.2 164.0 1215.8 160.0 1205.0C156.0 1194.2 155.0 1184.2 156.0 1175.0C157.0 1165.8 160.3 1156.8 166.0 1150.0Z" fill="#5e5e5e"/>
<path d="M186 1136C220 1128 246 1124 262 1128" stroke="#e4e4e4" stroke-width="3" fill="none"/>
<path d="M248 1128C268 1136 286 1146 298 1156" stroke="#dcdcdc" stroke-width="3" fill="none"/>
<path d="M172 1150L168 1172" stroke="#c8c8c8" stroke-width="4" fill="none"/>
<path d="M258 1036C270 1030 292 1032 300 1044C306 1058 304 1076 296 1086C284 1090 268 1084 260 1072C254 1060 254 1046 258 1036Z" fill="#000"/>
<ellipse cx="232" cy="1046" rx="26" ry="6" fill="#101010"/>
<ellipse cx="300" cy="1044" rx="8" ry="6" fill="#c0c0c0"/>
<path d="M304 1082C316 1092 326 1104 334 1120" stroke="#e0e0e0" stroke-width="6" fill="none"/>
<path d="M306 1092C316 1120 326 1150 330 1180C334 1205 336 1225 338 1240" stroke="#050505" stroke-width="10" fill="none"/>
</g>
<g filter="url(#bC)">
<path d="M340 1100L380 1100L404 1240L344 1240Z" fill="#5a5a5a"/>
<path d="M346 1120L366 1116L370 1140L350 1144ZM352 1152L372 1148L376 1176L356 1180ZM358 1190L378 1186L382 1216L362 1220Z" fill="#8a8a8a"/>
<path d="M350 1196L372 1190" stroke="#e0e0e0" stroke-width="3"/>
<path d="M404 1110C420 1108 446 1090 470 1060L486 1040L494 1075L482 1106L474 1138L471 1180L473 1240L410 1240Z" fill="#ececec"/>
<path d="M404 1104C430 1100 456 1082 474 1056C484 1040 490 1024 494 1010" stroke="#080808" stroke-width="9" fill="none"/>
<path d="M452 1062C470 1052 486 1046 494 1044L478 1110L456 1128Z" fill="#707070"/>
<path d="M408 1140C420 1150 430 1180 436 1240L412 1240Z" fill="#6a6a6a"/>
<path d="M446 1130C450 1160 452 1200 454 1240" stroke="#808080" stroke-width="6" fill="none"/>
<path d="M474.5 877.9C479.0 885.8 495.0 910.0 501.5 925.1C508.0 940.1 510.8 955.9 513.3 968.3C515.8 980.7 517.4 988.9 516.3 999.7C515.2 1010.5 511.3 1020.8 506.9 1033.1C502.5 1045.5 494.8 1061.9 489.8 1074.0C484.8 1086.1 480.3 1095.3 476.8 1106.0C473.3 1116.7 470.6 1125.7 468.8 1138.0C467.1 1150.3 466.5 1163.7 466.3 1180.0C466.1 1196.3 467.6 1226.7 467.8 1236.0" fill="none" stroke="#f4f4f4" stroke-width="7.5"/>
</g>
<clipPath id="brC"><path d="M148.0 990.0C147.7 997.7 146.3 1011.3 150.0 1018.0C153.7 1024.7 160.0 1027.3 170.0 1030.0C180.0 1032.7 196.3 1033.0 210.0 1034.0C223.7 1035.0 243.3 1037.3 252.0 1036.0C260.7 1034.7 255.7 1027.3 262.0 1026.0C268.3 1024.7 280.7 1032.3 290.0 1028.0C299.3 1023.7 308.0 1006.3 318.0 1000.0C328.0 993.7 341.0 989.3 350.0 990.0C359.0 990.7 366.0 995.7 372.0 1004.0C378.0 1012.3 382.7 1027.3 386.0 1040.0C389.3 1052.7 388.0 1070.3 392.0 1080.0C396.0 1089.7 402.0 1097.0 410.0 1098.0C418.0 1099.0 431.3 1092.3 440.0 1086.0C448.7 1079.7 455.7 1069.3 462.0 1060.0C468.3 1050.7 473.7 1040.0 478.0 1030.0C482.3 1020.0 486.2 1009.7 488.0 1000.0C489.8 990.3 490.0 982.8 489.0 972.0C488.0 961.2 485.5 947.0 482.0 935.0C478.5 923.0 474.3 910.5 468.0 900.0C461.7 889.5 453.7 880.0 444.0 872.0C434.3 864.0 422.0 857.0 410.0 852.0C398.0 847.0 383.3 844.0 372.0 842.0C360.7 840.0 354.0 839.7 342.0 840.0C330.0 840.3 314.3 841.0 300.0 844.0C285.7 847.0 269.0 852.3 256.0 858.0C243.0 863.7 233.0 869.7 222.0 878.0C211.0 886.3 199.5 896.8 190.0 908.0C180.5 919.2 171.3 934.3 165.0 945.0C158.7 955.7 154.8 964.5 152.0 972.0C149.2 979.5 148.3 982.3 148.0 990.0Z"/></clipPath>
<g filter="url(#bC)">
<path d="M148.0 990.0C147.7 997.7 146.3 1011.3 150.0 1018.0C153.7 1024.7 160.0 1027.3 170.0 1030.0C180.0 1032.7 196.3 1033.0 210.0 1034.0C223.7 1035.0 243.3 1037.3 252.0 1036.0C260.7 1034.7 255.7 1027.3 262.0 1026.0C268.3 1024.7 280.7 1032.3 290.0 1028.0C299.3 1023.7 308.0 1006.3 318.0 1000.0C328.0 993.7 341.0 989.3 350.0 990.0C359.0 990.7 366.0 995.7 372.0 1004.0C378.0 1012.3 382.7 1027.3 386.0 1040.0C389.3 1052.7 388.0 1070.3 392.0 1080.0C396.0 1089.7 402.0 1097.0 410.0 1098.0C418.0 1099.0 431.3 1092.3 440.0 1086.0C448.7 1079.7 455.7 1069.3 462.0 1060.0C468.3 1050.7 473.7 1040.0 478.0 1030.0C482.3 1020.0 486.2 1009.7 488.0 1000.0C489.8 990.3 490.0 982.8 489.0 972.0C488.0 961.2 485.5 947.0 482.0 935.0C478.5 923.0 474.3 910.5 468.0 900.0C461.7 889.5 453.7 880.0 444.0 872.0C434.3 864.0 422.0 857.0 410.0 852.0C398.0 847.0 383.3 844.0 372.0 842.0C360.7 840.0 354.0 839.7 342.0 840.0C330.0 840.3 314.3 841.0 300.0 844.0C285.7 847.0 269.0 852.3 256.0 858.0C243.0 863.7 233.0 869.7 222.0 878.0C211.0 886.3 199.5 896.8 190.0 908.0C180.5 919.2 171.3 934.3 165.0 945.0C158.7 955.7 154.8 964.5 152.0 972.0C149.2 979.5 148.3 982.3 148.0 990.0Z" fill="#787878"/>
</g>
<g clip-path="url(#brC)">
<g filter="url(#bC)">
<path d="M148.0 990.0C147.7 997.7 146.3 1011.3 150.0 1018.0C153.7 1024.7 160.0 1027.3 170.0 1030.0C180.0 1032.7 196.3 1033.0 210.0 1034.0C223.7 1035.0 243.3 1037.3 252.0 1036.0C260.7 1034.7 255.7 1027.3 262.0 1026.0C268.3 1024.7 280.7 1032.3 290.0 1028.0C299.3 1023.7 308.0 1006.3 318.0 1000.0C328.0 993.7 341.0 989.3 350.0 990.0C359.0 990.7 366.0 995.7 372.0 1004.0C378.0 1012.3 382.7 1027.3 386.0 1040.0C389.3 1052.7 388.0 1070.3 392.0 1080.0C396.0 1089.7 402.0 1097.0 410.0 1098.0C418.0 1099.0 431.3 1092.3 440.0 1086.0C448.7 1079.7 455.7 1069.3 462.0 1060.0C468.3 1050.7 473.7 1040.0 478.0 1030.0C482.3 1020.0 486.2 1009.7 488.0 1000.0C489.8 990.3 490.0 982.8 489.0 972.0C488.0 961.2 485.5 947.0 482.0 935.0C478.5 923.0 474.3 910.5 468.0 900.0C461.7 889.5 453.7 880.0 444.0 872.0C434.3 864.0 422.0 857.0 410.0 852.0C398.0 847.0 383.3 844.0 372.0 842.0C360.7 840.0 354.0 839.7 342.0 840.0C330.0 840.3 314.3 841.0 300.0 844.0C285.7 847.0 269.0 852.3 256.0 858.0C243.0 863.7 233.0 869.7 222.0 878.0C211.0 886.3 199.5 896.8 190.0 908.0C180.5 919.2 171.3 934.3 165.0 945.0C158.7 955.7 154.8 964.5 152.0 972.0C149.2 979.5 148.3 982.3 148.0 990.0Z" fill="none" stroke="#585858" stroke-width="10"/>
<path d="M232.0 1000.0C230.3 996.3 222.7 986.3 222.0 978.0C221.3 969.7 223.7 958.7 228.0 950.0C232.3 941.3 239.7 932.7 248.0 926.0C256.3 919.3 267.7 913.8 278.0 910.0C288.3 906.2 301.3 905.3 310.0 903.0C318.7 900.7 326.7 897.2 330.0 896.0M345.0 915.0C349.5 915.2 363.8 913.8 372.0 916.0C380.2 918.2 388.7 923.3 394.0 928.0C399.3 932.7 402.3 941.3 404.0 944.0M342.0 842.0C341.7 845.3 341.0 855.7 340.0 862.0C339.0 868.3 337.2 874.0 336.0 880.0C334.8 886.0 333.5 895.0 333.0 898.0M158.0 962.0C159.5 963.0 163.9 966.1 166.9 968.1C169.9 970.1 172.8 972.2 175.9 974.1C178.9 976.1 181.8 978.3 185.1 979.6C188.5 980.9 194.2 981.6 196.0 982.0M166.0 934.0C167.6 935.3 172.2 939.2 175.4 941.6C178.6 944.1 181.0 948.0 185.0 948.7C189.1 949.5 195.9 945.1 199.7 946.3C203.5 947.5 206.6 954.4 208.0 956.0M198.6 951.1C199.3 950.5 201.4 948.7 202.8 947.6C204.2 946.5 206.5 944.9 207.2 944.3M182.0 908.0C184.1 908.9 190.8 910.8 194.4 913.4C198.1 916.0 200.4 920.4 203.8 923.4C207.1 926.3 210.9 928.7 214.6 931.1C218.3 933.6 224.1 936.9 226.0 938.0M203.4 922.6C203.8 924.0 205.1 928.0 205.6 930.8C206.1 933.6 206.3 937.9 206.5 939.3M204.0 886.0C205.2 887.7 207.8 893.8 211.3 896.0C214.7 898.1 221.7 896.3 224.8 898.8C228.0 901.3 227.7 907.7 230.2 910.9C232.7 914.1 238.4 916.8 240.0 918.0M220.3 900.5C221.3 900.9 224.4 903.1 226.4 902.9C228.3 902.8 231.1 900.1 232.0 899.6M232.0 866.0C232.8 868.0 233.8 874.9 236.6 877.8C239.4 880.8 246.3 880.4 248.7 883.7C251.0 887.0 248.7 894.0 250.9 897.4C253.1 900.7 260.1 902.9 262.0 904.0M252.1 891.5C253.6 891.4 258.2 890.4 261.2 890.7C264.1 891.0 268.3 893.0 269.8 893.5M262.0 852.0C262.2 854.0 261.4 861.0 263.4 864.2C265.4 867.5 270.8 868.9 274.0 871.4C277.2 874.0 281.0 876.3 282.7 879.7C284.4 883.1 283.8 889.9 284.0 892.0M279.0 883.0C278.7 884.0 277.5 886.9 277.0 888.9C276.5 890.9 276.3 894.0 276.2 895.1M292.0 845.0C293.3 846.4 299.0 850.0 299.7 853.3C300.5 856.6 295.8 861.6 296.3 865.0C296.8 868.4 301.3 870.6 302.5 873.8C303.8 876.9 303.8 882.3 304.0 884.0M300.7 873.4C300.1 874.1 298.2 876.3 296.9 877.7C295.6 879.1 293.6 881.1 292.9 881.8M318.0 842.0C318.6 843.1 321.2 846.5 321.7 848.8C322.3 851.1 322.5 853.4 321.4 855.8C320.3 858.3 315.4 861.0 315.1 863.3C314.9 865.7 319.2 868.9 320.0 870.0M366.0 843.0C365.9 844.9 365.9 850.7 365.4 854.5C364.9 858.3 363.9 862.0 362.9 865.7C362.0 869.4 360.3 872.9 359.5 876.7C358.7 880.4 358.3 886.1 358.0 888.0M361.6 867.8C362.4 868.8 364.6 872.1 366.4 874.0C368.2 875.9 371.3 878.4 372.3 879.2M394.0 848.0C392.7 849.8 386.7 854.5 386.1 858.7C385.6 862.9 390.7 868.7 390.7 873.1C390.6 877.4 387.7 880.9 385.9 884.7C384.2 888.5 381.0 894.1 380.0 896.0M422.0 860.0C421.1 861.9 418.7 867.8 416.8 871.7C415.0 875.5 413.4 879.4 410.9 882.9C408.4 886.5 403.8 889.0 402.0 892.8C400.1 896.6 400.3 903.8 400.0 906.0M409.1 886.9C408.3 886.5 405.7 884.2 404.0 884.2C402.3 884.2 399.7 886.4 398.8 886.9M446.0 876.0C445.5 878.2 445.0 885.3 443.0 889.1C441.1 892.9 437.3 895.6 434.4 898.8C431.5 902.0 427.9 904.9 425.5 908.4C423.2 912.0 420.9 918.1 420.0 920.0M466.0 900.0C464.9 901.8 462.4 907.8 459.2 910.5C456.0 913.2 449.7 913.3 446.8 916.3C443.8 919.2 443.8 924.6 441.7 928.2C439.5 931.8 435.3 936.4 434.0 938.0M449.1 920.0C449.4 921.3 449.9 925.1 450.8 927.4C451.8 929.8 454.3 932.8 455.0 933.8M480.0 930.0C478.8 931.6 475.6 936.7 472.8 939.4C470.0 942.1 466.4 943.9 463.1 946.1C459.8 948.3 455.8 949.8 453.0 952.4C450.1 955.0 447.2 960.4 446.0 962.0M458.2 950.5C456.9 950.7 453.0 951.6 450.3 951.7C447.7 951.8 443.7 951.2 442.3 951.1M487.0 962.0C486.0 963.5 483.7 968.7 480.9 970.9C478.2 973.0 473.0 972.4 470.5 974.9C468.0 977.3 468.5 983.1 466.1 985.6C463.7 988.1 457.7 989.3 456.0 990.0M484.0 998.0C482.8 998.7 479.1 1001.0 476.6 1002.4C474.1 1003.9 470.9 1004.5 469.1 1006.7C467.2 1008.9 467.4 1013.5 465.6 1015.8C463.7 1018.0 459.3 1019.3 458.0 1020.0M463.4 1015.4C464.0 1016.7 466.5 1020.5 466.9 1023.2C467.3 1025.8 466.0 1030.2 465.8 1031.6M160.0 1002.0C162.3 1002.8 169.0 1005.6 173.7 1006.9C178.5 1008.2 184.1 1007.3 188.3 1009.8C192.6 1012.2 194.9 1019.3 199.2 1021.7C203.5 1024.1 211.5 1023.6 214.0 1024.0M191.4 1014.8C192.2 1014.0 194.5 1011.5 196.1 1009.8C197.7 1008.2 200.1 1005.8 200.9 1005.0M200.0 994.0C201.7 995.5 206.5 1000.7 210.3 1003.0C214.2 1005.3 218.9 1006.1 223.1 1007.8C227.3 1009.5 231.8 1010.9 235.6 1013.2C239.4 1015.6 244.3 1020.5 246.0 1022.0M221.1 1006.8C221.3 1008.1 222.6 1011.7 222.4 1014.1C222.2 1016.5 220.3 1019.9 219.9 1021.0M396.0 954.0C397.6 956.4 401.9 964.2 405.6 968.3C409.4 972.4 413.6 976.0 418.6 978.8C423.6 981.5 431.0 981.4 435.6 984.6C440.2 987.8 444.3 995.8 446.0 998.0M426.3 980.7C426.6 982.0 427.8 986.0 428.1 988.7C428.4 991.4 428.2 995.5 428.2 996.9M412.0 940.0C413.7 941.4 418.0 946.3 422.0 948.2C425.9 950.1 431.9 949.1 435.7 951.2C439.5 953.3 441.6 957.8 444.6 960.9C447.7 964.1 452.4 968.5 454.0 970.0M440.0 960.0C440.0 961.5 439.4 966.1 439.8 969.0C440.1 972.0 441.7 976.3 442.1 977.7" stroke="#5e5e5e" stroke-width="9" fill="none" stroke-linecap="round" stroke-linejoin="round"/>
<path d="M232.0 1000.0C230.3 996.3 222.7 986.3 222.0 978.0C221.3 969.7 223.7 958.7 228.0 950.0C232.3 941.3 239.7 932.7 248.0 926.0C256.3 919.3 267.7 913.8 278.0 910.0C288.3 906.2 301.3 905.3 310.0 903.0C318.7 900.7 326.7 897.2 330.0 896.0M345.0 915.0C349.5 915.2 363.8 913.8 372.0 916.0C380.2 918.2 388.7 923.3 394.0 928.0C399.3 932.7 402.3 941.3 404.0 944.0M342.0 842.0C341.7 845.3 341.0 855.7 340.0 862.0C339.0 868.3 337.2 874.0 336.0 880.0C334.8 886.0 333.5 895.0 333.0 898.0M158.0 962.0C159.5 963.0 163.9 966.1 166.9 968.1C169.9 970.1 172.8 972.2 175.9 974.1C178.9 976.1 181.8 978.3 185.1 979.6C188.5 980.9 194.2 981.6 196.0 982.0M166.0 934.0C167.6 935.3 172.2 939.2 175.4 941.6C178.6 944.1 181.0 948.0 185.0 948.7C189.1 949.5 195.9 945.1 199.7 946.3C203.5 947.5 206.6 954.4 208.0 956.0M198.6 951.1C199.3 950.5 201.4 948.7 202.8 947.6C204.2 946.5 206.5 944.9 207.2 944.3M182.0 908.0C184.1 908.9 190.8 910.8 194.4 913.4C198.1 916.0 200.4 920.4 203.8 923.4C207.1 926.3 210.9 928.7 214.6 931.1C218.3 933.6 224.1 936.9 226.0 938.0M203.4 922.6C203.8 924.0 205.1 928.0 205.6 930.8C206.1 933.6 206.3 937.9 206.5 939.3M204.0 886.0C205.2 887.7 207.8 893.8 211.3 896.0C214.7 898.1 221.7 896.3 224.8 898.8C228.0 901.3 227.7 907.7 230.2 910.9C232.7 914.1 238.4 916.8 240.0 918.0M220.3 900.5C221.3 900.9 224.4 903.1 226.4 902.9C228.3 902.8 231.1 900.1 232.0 899.6M232.0 866.0C232.8 868.0 233.8 874.9 236.6 877.8C239.4 880.8 246.3 880.4 248.7 883.7C251.0 887.0 248.7 894.0 250.9 897.4C253.1 900.7 260.1 902.9 262.0 904.0M252.1 891.5C253.6 891.4 258.2 890.4 261.2 890.7C264.1 891.0 268.3 893.0 269.8 893.5M262.0 852.0C262.2 854.0 261.4 861.0 263.4 864.2C265.4 867.5 270.8 868.9 274.0 871.4C277.2 874.0 281.0 876.3 282.7 879.7C284.4 883.1 283.8 889.9 284.0 892.0M279.0 883.0C278.7 884.0 277.5 886.9 277.0 888.9C276.5 890.9 276.3 894.0 276.2 895.1M292.0 845.0C293.3 846.4 299.0 850.0 299.7 853.3C300.5 856.6 295.8 861.6 296.3 865.0C296.8 868.4 301.3 870.6 302.5 873.8C303.8 876.9 303.8 882.3 304.0 884.0M300.7 873.4C300.1 874.1 298.2 876.3 296.9 877.7C295.6 879.1 293.6 881.1 292.9 881.8M318.0 842.0C318.6 843.1 321.2 846.5 321.7 848.8C322.3 851.1 322.5 853.4 321.4 855.8C320.3 858.3 315.4 861.0 315.1 863.3C314.9 865.7 319.2 868.9 320.0 870.0M366.0 843.0C365.9 844.9 365.9 850.7 365.4 854.5C364.9 858.3 363.9 862.0 362.9 865.7C362.0 869.4 360.3 872.9 359.5 876.7C358.7 880.4 358.3 886.1 358.0 888.0M361.6 867.8C362.4 868.8 364.6 872.1 366.4 874.0C368.2 875.9 371.3 878.4 372.3 879.2M394.0 848.0C392.7 849.8 386.7 854.5 386.1 858.7C385.6 862.9 390.7 868.7 390.7 873.1C390.6 877.4 387.7 880.9 385.9 884.7C384.2 888.5 381.0 894.1 380.0 896.0M422.0 860.0C421.1 861.9 418.7 867.8 416.8 871.7C415.0 875.5 413.4 879.4 410.9 882.9C408.4 886.5 403.8 889.0 402.0 892.8C400.1 896.6 400.3 903.8 400.0 906.0M409.1 886.9C408.3 886.5 405.7 884.2 404.0 884.2C402.3 884.2 399.7 886.4 398.8 886.9M446.0 876.0C445.5 878.2 445.0 885.3 443.0 889.1C441.1 892.9 437.3 895.6 434.4 898.8C431.5 902.0 427.9 904.9 425.5 908.4C423.2 912.0 420.9 918.1 420.0 920.0M466.0 900.0C464.9 901.8 462.4 907.8 459.2 910.5C456.0 913.2 449.7 913.3 446.8 916.3C443.8 919.2 443.8 924.6 441.7 928.2C439.5 931.8 435.3 936.4 434.0 938.0M449.1 920.0C449.4 921.3 449.9 925.1 450.8 927.4C451.8 929.8 454.3 932.8 455.0 933.8M480.0 930.0C478.8 931.6 475.6 936.7 472.8 939.4C470.0 942.1 466.4 943.9 463.1 946.1C459.8 948.3 455.8 949.8 453.0 952.4C450.1 955.0 447.2 960.4 446.0 962.0M458.2 950.5C456.9 950.7 453.0 951.6 450.3 951.7C447.7 951.8 443.7 951.2 442.3 951.1M487.0 962.0C486.0 963.5 483.7 968.7 480.9 970.9C478.2 973.0 473.0 972.4 470.5 974.9C468.0 977.3 468.5 983.1 466.1 985.6C463.7 988.1 457.7 989.3 456.0 990.0M484.0 998.0C482.8 998.7 479.1 1001.0 476.6 1002.4C474.1 1003.9 470.9 1004.5 469.1 1006.7C467.2 1008.9 467.4 1013.5 465.6 1015.8C463.7 1018.0 459.3 1019.3 458.0 1020.0M463.4 1015.4C464.0 1016.7 466.5 1020.5 466.9 1023.2C467.3 1025.8 466.0 1030.2 465.8 1031.6M160.0 1002.0C162.3 1002.8 169.0 1005.6 173.7 1006.9C178.5 1008.2 184.1 1007.3 188.3 1009.8C192.6 1012.2 194.9 1019.3 199.2 1021.7C203.5 1024.1 211.5 1023.6 214.0 1024.0M191.4 1014.8C192.2 1014.0 194.5 1011.5 196.1 1009.8C197.7 1008.2 200.1 1005.8 200.9 1005.0M200.0 994.0C201.7 995.5 206.5 1000.7 210.3 1003.0C214.2 1005.3 218.9 1006.1 223.1 1007.8C227.3 1009.5 231.8 1010.9 235.6 1013.2C239.4 1015.6 244.3 1020.5 246.0 1022.0M221.1 1006.8C221.3 1008.1 222.6 1011.7 222.4 1014.1C222.2 1016.5 220.3 1019.9 219.9 1021.0M396.0 954.0C397.6 956.4 401.9 964.2 405.6 968.3C409.4 972.4 413.6 976.0 418.6 978.8C423.6 981.5 431.0 981.4 435.6 984.6C440.2 987.8 444.3 995.8 446.0 998.0M426.3 980.7C426.6 982.0 427.8 986.0 428.1 988.7C428.4 991.4 428.2 995.5 428.2 996.9M412.0 940.0C413.7 941.4 418.0 946.3 422.0 948.2C425.9 950.1 431.9 949.1 435.7 951.2C439.5 953.3 441.6 957.8 444.6 960.9C447.7 964.1 452.4 968.5 454.0 970.0M440.0 960.0C440.0 961.5 439.4 966.1 439.8 969.0C440.1 972.0 441.7 976.3 442.1 977.7" stroke="#242424" stroke-width="3" fill="none" stroke-linecap="round" stroke-linejoin="round"/>
</g>
<defs><radialGradient id="shC" gradientUnits="userSpaceOnUse" cx="390" cy="990" r="270"><stop offset="0.3" stop-color="#000" stop-opacity="0"/><stop offset="1" stop-color="#000" stop-opacity="0.42"/></radialGradient></defs>
<rect x="130" y="820" width="380" height="300" fill="url(#shC)"/>
</g>
<g filter="url(#bC)">
<path d="M246 984C258 950 300 934 340 934C366 934 384 944 386 958C386 974 372 990 350 994L318 1002L290 1028L262 1026C252 1012 246 1000 246 984Z" fill="#585858"/>
<path d="M372.0 1004.0C373.3 995.0 384.0 992.7 392.0 990.0C400.0 987.3 411.0 986.3 420.0 988.0C429.0 989.7 439.0 994.0 446.0 1000.0C453.0 1006.0 459.3 1014.7 462.0 1024.0C464.7 1033.3 465.0 1046.0 462.0 1056.0C459.0 1066.0 452.0 1077.0 444.0 1084.0C436.0 1091.0 422.7 1098.3 414.0 1098.0C405.3 1097.7 397.0 1091.0 392.0 1082.0C387.0 1073.0 387.3 1057.0 384.0 1044.0C380.7 1031.0 370.7 1013.0 372.0 1004.0Z" fill="#8e8e8e" stroke="#1a1a1a" stroke-width="2.5"/>
<path d="M388 1034L404 1000M388 1034L424 996M388 1034L444 1010M388 1034L456 1032M388 1034L454 1058M388 1034L438 1078M388 1034L414 1090M388 1034L396 1070" stroke="#c4c4c4" stroke-width="3.4" fill="none" stroke-linecap="round"/>
<path d="M410 1004L418 1016M436 1008L436 1024M450 1040L438 1044M444 1066L432 1060M420 1082L416 1068" stroke="#bcbcbc" stroke-width="2.6" fill="none" stroke-linecap="round"/>
<path d="M394 954C416 968 440 984 462 1002" stroke="#8c8c8c" stroke-width="3" fill="none"/>
<path d="M326.0 996.0C330.0 992.3 339.3 991.3 346.0 994.0C352.7 996.7 361.5 1002.7 366.0 1012.0C370.5 1021.3 370.7 1036.0 373.0 1050.0C375.3 1064.0 376.8 1081.0 380.0 1096.0C383.2 1111.0 388.7 1124.3 392.0 1140.0C395.3 1155.7 397.8 1173.3 400.0 1190.0C402.2 1206.7 407.0 1231.7 405.0 1240.0C403.0 1248.3 391.8 1248.3 388.0 1240.0C384.2 1231.7 384.7 1206.7 382.0 1190.0C379.3 1173.3 377.0 1154.7 372.0 1140.0C367.0 1125.3 358.7 1112.3 352.0 1102.0C345.3 1091.7 337.2 1087.3 332.0 1078.0C326.8 1068.7 322.7 1056.3 321.0 1046.0C319.3 1035.7 321.2 1024.3 322.0 1016.0C322.8 1007.7 322.0 999.7 326.0 996.0Z" fill="#bebebe"/>
<path d="M366 1012C378 1030 378 1060 384 1090" stroke="#161616" stroke-width="4" fill="none"/>
<path d="M322 1010C314 1030 318 1060 330 1082C342 1100 356 1110 366 1130" stroke="#141414" stroke-width="4" fill="none"/>
<circle cx="327.5" cy="975" r="21" fill="#4a4a4a"/>
<path d="M305 984C302 962 318 950 336 952C350 954 358 962 360 970" stroke="#c0c0c0" stroke-width="4" fill="none"/>
<circle cx="327.5" cy="975" r="15.5" fill="#949494"/>
<path d="M241 983C238 968 250 956 268 947C290 937 320 934 354 934C378 934 390 943 390 957C390 969 380 975 368 973C357 971 356 963 344 958C328 953 304 956 288 965C274 973 268 982 271 991C262 997 244 995 241 983Z" fill="#cecece"/>
</g>
<g filter="url(#nzC)" opacity="0.15"><path d="M132.0 1236.0C131.0 1232.5 127.8 1221.5 126.0 1215.0C124.2 1208.5 122.2 1204.5 121.0 1197.0C119.8 1189.5 120.0 1179.5 119.0 1170.0C118.0 1160.5 118.5 1145.7 115.0 1140.0C111.5 1134.3 102.8 1140.3 98.0 1136.0C93.2 1131.7 85.7 1120.7 86.0 1114.0C86.3 1107.3 94.0 1103.0 100.0 1096.0C106.0 1089.0 115.3 1079.3 122.0 1072.0C128.7 1064.7 137.2 1059.3 140.0 1052.0C142.8 1044.7 140.2 1038.3 139.0 1028.0C137.8 1017.7 132.3 1002.7 133.0 990.0C133.7 977.3 138.2 965.5 143.0 952.0C147.8 938.5 153.5 922.7 162.0 909.0C170.5 895.3 181.7 881.7 194.0 870.0C206.3 858.3 220.7 847.8 236.0 839.0C251.3 830.2 268.3 822.7 286.0 817.5C303.7 812.3 323.8 808.2 342.0 808.0C360.2 807.8 378.5 810.8 395.0 816.0C411.5 821.2 426.8 829.3 441.0 839.0C455.2 848.7 468.8 860.0 480.0 874.0C491.2 888.0 501.3 907.3 508.0 923.0C514.7 938.7 517.5 955.2 520.0 968.0C522.5 980.8 524.0 989.0 523.0 1000.0C522.0 1011.0 518.3 1021.5 514.0 1034.0C509.7 1046.5 502.0 1063.0 497.0 1075.0C492.0 1087.0 487.5 1095.5 484.0 1106.0C480.5 1116.5 477.8 1125.7 476.0 1138.0C474.2 1150.3 473.5 1163.7 473.5 1180.0C473.5 1196.3 475.6 1226.7 476.0 1236.0Z"/></g>
<g filter="url(#nzCd)" opacity="0.22"><path d="M132.0 1236.0C131.0 1232.5 127.8 1221.5 126.0 1215.0C124.2 1208.5 122.2 1204.5 121.0 1197.0C119.8 1189.5 120.0 1179.5 119.0 1170.0C118.0 1160.5 118.5 1145.7 115.0 1140.0C111.5 1134.3 102.8 1140.3 98.0 1136.0C93.2 1131.7 85.7 1120.7 86.0 1114.0C86.3 1107.3 94.0 1103.0 100.0 1096.0C106.0 1089.0 115.3 1079.3 122.0 1072.0C128.7 1064.7 137.2 1059.3 140.0 1052.0C142.8 1044.7 140.2 1038.3 139.0 1028.0C137.8 1017.7 132.3 1002.7 133.0 990.0C133.7 977.3 138.2 965.5 143.0 952.0C147.8 938.5 153.5 922.7 162.0 909.0C170.5 895.3 181.7 881.7 194.0 870.0C206.3 858.3 220.7 847.8 236.0 839.0C251.3 830.2 268.3 822.7 286.0 817.5C303.7 812.3 323.8 808.2 342.0 808.0C360.2 807.8 378.5 810.8 395.0 816.0C411.5 821.2 426.8 829.3 441.0 839.0C455.2 848.7 468.8 860.0 480.0 874.0C491.2 888.0 501.3 907.3 508.0 923.0C514.7 938.7 517.5 955.2 520.0 968.0C522.5 980.8 524.0 989.0 523.0 1000.0C522.0 1011.0 518.3 1021.5 514.0 1034.0C509.7 1046.5 502.0 1063.0 497.0 1075.0C492.0 1087.0 487.5 1095.5 484.0 1106.0C480.5 1116.5 477.8 1125.7 476.0 1138.0C474.2 1150.3 473.5 1163.7 473.5 1180.0C473.5 1196.3 475.6 1226.7 476.0 1236.0Z"/></g>
</g>
<g filter="url(#bC)"><path d="M316 909L322 916L326 915L327 924L323 928L325 935L311 934L309 928L305 922L310 917Z" fill="#ff5a12"/></g>
<g filter="url(#bCs)">
<rect x="610.8" y="788.9" width="29.8" height="12.4" fill="#00f050"/>
<rect x="610.8" y="808.7" width="29.8" height="12.4" fill="#00e468"/>
<rect x="610.8" y="828.5" width="29.8" height="12.4" fill="#00d87c"/>
<rect x="610.8" y="848.2" width="29.8" height="12.4" fill="#00c890"/>
<rect x="610.8" y="868.0" width="29.8" height="12.4" fill="#00b4a0"/>
<rect x="610.8" y="887.8" width="29.8" height="12.4" fill="#00a0b8"/>
<rect x="610.8" y="907.6" width="29.8" height="12.4" fill="#1488c8"/>
<rect x="610.8" y="927.4" width="29.8" height="12.4" fill="#1070e4"/>
<rect x="610.8" y="947.1" width="29.8" height="12.4" fill="#1058f0"/>
<rect x="610.8" y="966.9" width="29.8" height="12.4" fill="#1040f4"/>
<rect x="610.8" y="986.7" width="29.8" height="12.4" fill="#ffff00"/>
<rect x="610.8" y="1006.5" width="29.8" height="12.4" fill="#ffe800"/>
<rect x="610.8" y="1026.3" width="29.8" height="12.4" fill="#ffd400"/>
<rect x="610.8" y="1046.0" width="29.8" height="12.4" fill="#ffc000"/>
<rect x="610.8" y="1065.8" width="29.8" height="12.4" fill="#ffb000"/>
<rect x="610.8" y="1085.6" width="29.8" height="12.4" fill="#ffa000"/>
<rect x="610.8" y="1105.4" width="29.8" height="12.4" fill="#ff9000"/>
<rect x="610.8" y="1125.2" width="29.8" height="12.4" fill="#ff7800"/>
<rect x="610.8" y="1144.9" width="29.8" height="12.4" fill="#ff6000"/>
<rect x="610.8" y="1164.7" width="29.8" height="12.4" fill="#ff4800"/>
</g>
<g filter="url(#bCs)">
<text x="603" y="805.5" font-size="15" fill="#dcdcdc" text-anchor="end" textLength="46" lengthAdjust="spacingAndGlyphs" font-weight="bold">-8.00</text>
<text x="603" y="979.8" font-size="15" fill="#dcdcdc" text-anchor="end" textLength="42.5" lengthAdjust="spacingAndGlyphs" font-weight="bold">-2.98</text>
<text x="603" y="1007" font-size="15" fill="#dcdcdc" text-anchor="end" textLength="38" lengthAdjust="spacingAndGlyphs" font-weight="bold">8.00</text>
<text x="603" y="1175.5" font-size="15" fill="#dcdcdc" text-anchor="end" textLength="33.5" lengthAdjust="spacingAndGlyphs" font-weight="bold">2.98</text>
<text x="644" y="1206" font-size="15" fill="#dcdcdc" text-anchor="end" textLength="39.5" lengthAdjust="spacingAndGlyphs" font-weight="bold">t(39)</text>
<text x="301.5" y="780.5" font-size="16" fill="#dcdcdc" text-anchor="middle" textLength="42" lengthAdjust="spacingAndGlyphs" font-weight="bold">SAG</text>
<text x="60" y="999" font-size="15" fill="#dcdcdc" font-weight="bold">A</text>
</g>
<defs><filter id="bCs" x="-5%" y="-5%" width="110%" height="110%"><feGaussianBlur stdDeviation="0.6"/></filter></defs>
</g>
<path d="M590 1232.5h66" stroke="#9a9a9a" stroke-width="2" stroke-dasharray="5 3" opacity="0.7"/>
</g>
<g filter="url(#soft)">
<g id="letters">
<text x="66.5" y="40.2" font-size="37" text-anchor="start" fill="#000" font-weight="bold" >A</text>
<text x="670.5" y="74.6" font-size="37" text-anchor="start" fill="#000" font-weight="bold" >B</text>
<text x="31.5" y="721.6" font-size="37" text-anchor="start" fill="#000" font-weight="bold" >C</text>
<text x="11.2" y="1323.9" font-size="37" text-anchor="start" fill="#000" font-weight="bold" >D</text>
</g>
<g id="titles">
<text x="349.5" y="61" font-size="43" text-anchor="middle" fill="#111" textLength="371.5" lengthAdjust="spacingAndGlyphs" >Positive &gt; Negative</text>
<text x="1103.2" y="60.2" font-size="33" text-anchor="middle" fill="#111" textLength="213.5" lengthAdjust="spacingAndGlyphs" >Right Striatum</text>
<text x="1102.6" y="100.6" font-size="33" text-anchor="middle" fill="#111" textLength="444" lengthAdjust="spacingAndGlyphs" >Positive &gt; Negative Feedback</text>
<text x="359.4" y="733" font-size="43" text-anchor="middle" fill="#111" textLength="321.5" lengthAdjust="spacingAndGlyphs" >Failure &gt; Control</text>
<text x="1054.6" y="721.5" font-size="43" text-anchor="middle" fill="#111" >MCC</text>
<text x="361" y="1336" font-size="43" text-anchor="middle" fill="#111" textLength="369.5" lengthAdjust="spacingAndGlyphs" >Failure Participants</text>
<text x="1060.5" y="1350.5" font-size="40" text-anchor="middle" fill="#111" textLength="352" lengthAdjust="spacingAndGlyphs" >Control Participants</text>
</g>
<g id="chartB">
<path d="M783.5 114.57999999999993V573.3H1365.2" fill="none" stroke="#5e5e5e" stroke-width="1.9"/>
<path d="M783.5 573.3h5.5M783.5 496.9h5.5M783.5 420.6h5.5M783.5 344.2h5.5M783.5 267.8h5.5M783.5 191.4h5.5M783.5 115.1h5.5M835.6 573.3v-5.5M941.4 573.3v-5.5M1047.2 573.3v-5.5M1153.0 573.3v-5.5M1258.8 573.3v-5.5M1364.6 573.3v-5.5" stroke="#5e5e5e" stroke-width="1.5" fill="none"/>
<text x="774.5" y="579.5" font-size="15" text-anchor="end" fill="#6e6e6e" textLength="24" lengthAdjust="spacingAndGlyphs" >0.4</text>
<text x="774.5" y="503.1" font-size="15" text-anchor="end" fill="#6e6e6e" textLength="24" lengthAdjust="spacingAndGlyphs" >0.5</text>
<text x="774.5" y="426.8" font-size="15" text-anchor="end" fill="#6e6e6e" textLength="24" lengthAdjust="spacingAndGlyphs" >0.6</text>
<text x="774.5" y="350.4" font-size="15" text-anchor="end" fill="#6e6e6e" textLength="24" lengthAdjust="spacingAndGlyphs" >0.7</text>
<text x="774.5" y="274.0" font-size="15" text-anchor="end" fill="#6e6e6e" textLength="24" lengthAdjust="spacingAndGlyphs" >0.8</text>
<text x="774.5" y="197.6" font-size="15" text-anchor="end" fill="#6e6e6e" textLength="24" lengthAdjust="spacingAndGlyphs" >0.9</text>
<text x="774.5" y="121.3" font-size="15" text-anchor="end" fill="#6e6e6e" >1</text>
<text x="835.6" y="601" font-size="15" text-anchor="middle" fill="#6e6e6e" textLength="29" lengthAdjust="spacingAndGlyphs" >-0.1</text>
<text x="941.4" y="601" font-size="15" text-anchor="middle" fill="#6e6e6e" >0</text>
<text x="1047.2" y="601" font-size="15" text-anchor="middle" fill="#6e6e6e" textLength="24" lengthAdjust="spacingAndGlyphs" >0.1</text>
<text x="1153.0" y="601" font-size="15" text-anchor="middle" fill="#6e6e6e" textLength="24" lengthAdjust="spacingAndGlyphs" >0.2</text>
<text x="1258.8" y="601" font-size="15" text-anchor="middle" fill="#6e6e6e" textLength="24" lengthAdjust="spacingAndGlyphs" >0.3</text>
<text x="1364.6" y="601" font-size="15" text-anchor="middle" fill="#6e6e6e" textLength="24" lengthAdjust="spacingAndGlyphs" >0.4</text>
<path d="M835.7 469.8L1311.4 236" stroke="#6a6a6a" stroke-width="2" fill="none"/>
<g fill="#0a0af5"><circle cx="1081.4" cy="168.5" r="5.2"/><circle cx="956.4" cy="267.8" r="5.2"/><circle cx="1064.0" cy="252.5" r="5.2"/><circle cx="1051.6" cy="267.8" r="5.2"/><circle cx="1033.8" cy="283.1" r="5.2"/><circle cx="1062.4" cy="283.1" r="5.2"/><circle cx="1067.9" cy="283.1" r="5.2"/><circle cx="1100.3" cy="283.1" r="5.2"/><circle cx="1155.5" cy="267.8" r="5.2"/><circle cx="1165.8" cy="252.5" r="5.2"/><circle cx="1189.6" cy="267.8" r="5.2"/><circle cx="1302.8" cy="267.8" r="5.2"/><circle cx="1007.8" cy="306.0" r="5.2"/><circle cx="1025.1" cy="328.9" r="5.2"/><circle cx="1044.0" cy="328.9" r="5.2"/><circle cx="1077.6" cy="328.9" r="5.2"/><circle cx="1083.0" cy="328.9" r="5.2"/><circle cx="1044.0" cy="344.2" r="5.2"/><circle cx="1039.7" cy="359.5" r="5.2"/><circle cx="948.8" cy="359.5" r="5.2"/><circle cx="896.8" cy="382.4" r="5.2"/><circle cx="946.1" cy="382.4" r="5.2"/><circle cx="1018.6" cy="382.4" r="5.2"/><circle cx="1122.5" cy="382.4" r="5.2"/><circle cx="906.6" cy="397.6" r="5.2"/><circle cx="973.1" cy="397.6" r="5.2"/><circle cx="1052.2" cy="397.6" r="5.2"/><circle cx="1067.3" cy="397.6" r="5.2"/><circle cx="993.2" cy="443.5" r="5.2"/><circle cx="1033.2" cy="443.5" r="5.2"/><circle cx="901.2" cy="458.7" r="5.2"/><circle cx="1016.4" cy="474.0" r="5.2"/><circle cx="873.5" cy="496.9" r="5.2"/><circle cx="958.0" cy="496.9" r="5.2"/><circle cx="988.8" cy="496.9" r="5.2"/><circle cx="1038.6" cy="496.9" r="5.2"/><circle cx="1173.4" cy="496.9" r="5.2"/><circle cx="1012.1" cy="519.8" r="5.2"/><circle cx="1030.5" cy="519.8" r="5.2"/><circle cx="1001.3" cy="535.1" r="5.2"/></g>
<text x="697" y="352.5" font-size="33" text-anchor="middle" fill="#111" textLength="456" lengthAdjust="spacingAndGlyphs" transform="rotate(-90 697 352.5)" >Proportion of Feedback Words</text>
<text x="736.3" y="351.8" font-size="33" text-anchor="middle" fill="#111" textLength="217" lengthAdjust="spacingAndGlyphs" transform="rotate(-90 736.3 351.8)" >Correct at Test</text>
<text x="1070" y="638.7" font-size="33" text-anchor="middle" fill="#111" textLength="253" lengthAdjust="spacingAndGlyphs" >Parameter Value</text>
</g>
<g id="chartMCC">
<rect x="758.7" y="731.7" width="635" height="501.3" fill="none" stroke="#7a7a7a" stroke-width="2"/>
<path d="M758.7 831.3h6M1393.7 831.3h-6M758.7 931.5h6M1393.7 931.5h-6M758.7 1031.7h6M1393.7 1031.7h-6M758.7 1131.9h6M1393.7 1131.9h-6M916.8 731.7v6M916.8 1233v-6M1234.6 731.7v6M1234.6 1233v-6" stroke="#6a6a6a" stroke-width="1.5" fill="none"/>
<rect x="789.8" y="802" width="255" height="29.5" fill="#352a87" stroke="#1b1550" stroke-width="1.6"/>
<rect x="1106.8" y="831.3" width="255" height="267.6" fill="#352a87" stroke="#1b1550" stroke-width="1.6"/>
<path d="M916.4 764.5V838.6M1234.6 1055.6V1144" stroke="#8cc2d8" stroke-width="3" fill="none"/>
<path d="M916.4 802V831.5M1234.6 1055.6V1099" stroke="#2a54ac" stroke-width="3" fill="none"/>
<path d="M914 765h4.8M914 838.2h4.8M1232.2 1143.4h4.8" stroke="#3f7288" stroke-width="2.4" fill="none"/>
<path d="M1232.2 1056h4.8" stroke="#3a62b4" stroke-width="2.4" fill="none"/>
<text x="749.5" y="739.9" font-size="17" text-anchor="end" fill="#707070" textLength="36.5" lengthAdjust="spacingAndGlyphs" >0.05</text>
<text x="749.5" y="840.1" font-size="17" text-anchor="end" fill="#707070" >0</text>
<text x="749.5" y="940.3" font-size="17" text-anchor="end" fill="#707070" textLength="42" lengthAdjust="spacingAndGlyphs" >-0.05</text>
<text x="749.5" y="1040.5" font-size="17" text-anchor="end" fill="#707070" textLength="29.5" lengthAdjust="spacingAndGlyphs" >-0.1</text>
<text x="749.5" y="1140.7" font-size="17" text-anchor="end" fill="#707070" textLength="42" lengthAdjust="spacingAndGlyphs" >-0.15</text>
<text x="749.5" y="1240.9" font-size="17" text-anchor="end" fill="#707070" textLength="29.5" lengthAdjust="spacingAndGlyphs" >-0.2</text>
<text x="886.8" y="1269.8" font-size="33" text-anchor="middle" fill="#111" textLength="104" lengthAdjust="spacingAndGlyphs" >Failure</text>
<text x="1203" y="1269.8" font-size="33" text-anchor="middle" fill="#111" textLength="108" lengthAdjust="spacingAndGlyphs" >Control</text>
<text x="694.4" y="992" font-size="33" text-anchor="middle" fill="#111" textLength="253" lengthAdjust="spacingAndGlyphs" transform="rotate(-90 694.4 992)" >Parameter Value</text>
<rect x="1098.5" y="722.6" width="9" height="1.8" fill="#2a2a2a"/>
</g>
<g id="chartDL">
<path d="M100.8 1364.4V1815.3H611.5" fill="none" stroke="#5e5e5e" stroke-width="1.9"/>
<path d="M100.8 1815.4h5M100.8 1759.1h5M100.8 1702.8h5M100.8 1646.5h5M100.8 1590.2h5M100.8 1533.9h5M100.8 1477.6h5M100.8 1421.3h5M100.8 1365.0h5M136.4 1815.3v-5M209.4 1815.3v-5M282.3 1815.3v-5M355.2 1815.3v-5M428.2 1815.3v-5M501.1 1815.3v-5M574.1 1815.3v-5" stroke="#5e5e5e" stroke-width="1.5" fill="none"/>
<text x="92.3" y="1821.2" font-size="14.5" text-anchor="end" fill="#6e6e6e" textLength="29" lengthAdjust="spacingAndGlyphs" >-0.4</text>
<text x="92.3" y="1764.9" font-size="14.5" text-anchor="end" fill="#6e6e6e" textLength="29" lengthAdjust="spacingAndGlyphs" >-0.3</text>
<text x="92.3" y="1708.6" font-size="14.5" text-anchor="end" fill="#6e6e6e" textLength="29" lengthAdjust="spacingAndGlyphs" >-0.2</text>
<text x="92.3" y="1652.3" font-size="14.5" text-anchor="end" fill="#6e6e6e" textLength="29" lengthAdjust="spacingAndGlyphs" >-0.1</text>
<text x="92.3" y="1596.0" font-size="14.5" text-anchor="end" fill="#6e6e6e" >0</text>
<text x="92.3" y="1539.7" font-size="14.5" text-anchor="end" fill="#6e6e6e" textLength="24" lengthAdjust="spacingAndGlyphs" >0.1</text>
<text x="92.3" y="1483.4" font-size="14.5" text-anchor="end" fill="#6e6e6e" textLength="24" lengthAdjust="spacingAndGlyphs" >0.2</text>
<text x="92.3" y="1427.1" font-size="14.5" text-anchor="end" fill="#6e6e6e" textLength="24" lengthAdjust="spacingAndGlyphs" >0.3</text>
<text x="92.3" y="1370.8" font-size="14.5" text-anchor="end" fill="#6e6e6e" textLength="24" lengthAdjust="spacingAndGlyphs" >0.4</text>
<text x="136.4" y="1840.5" font-size="14.5" text-anchor="middle" fill="#6e6e6e" >0</text>
<text x="209.4" y="1840.5" font-size="14.5" text-anchor="middle" fill="#6e6e6e" >1</text>
<text x="282.3" y="1840.5" font-size="14.5" text-anchor="middle" fill="#6e6e6e" >2</text>
<text x="355.2" y="1840.5" font-size="14.5" text-anchor="middle" fill="#6e6e6e" >3</text>
<text x="428.2" y="1840.5" font-size="14.5" text-anchor="middle" fill="#6e6e6e" >4</text>
<text x="501.1" y="1840.5" font-size="14.5" text-anchor="middle" fill="#6e6e6e" >5</text>
<text x="574.1" y="1840.5" font-size="14.5" text-anchor="middle" fill="#6e6e6e" >6</text>
<path d="M137.3 1528.5L574 1598.6" stroke="#6a6a6a" stroke-width="2" fill="none"/>
<g fill="#0a0af5"><circle cx="136.4" cy="1478.1" r="5.2"/><circle cx="209.4" cy="1545.8" r="5.2"/><circle cx="282.3" cy="1555.2" r="5.2"/><circle cx="355.2" cy="1600.1" r="5.2"/><circle cx="428.2" cy="1548.2" r="5.2"/><circle cx="428.2" cy="1594.2" r="5.2"/><circle cx="428.2" cy="1599.1" r="5.2"/><circle cx="428.2" cy="1621.4" r="5.2"/><circle cx="501.1" cy="1570.5" r="5.2"/><circle cx="501.1" cy="1575.9" r="5.2"/><circle cx="501.1" cy="1650" r="5.2"/><circle cx="574.1" cy="1537.4" r="5.2"/><circle cx="574.1" cy="1550.2" r="5.2"/><circle cx="574.1" cy="1558.1" r="5.2"/><circle cx="574.1" cy="1572.4" r="5.2"/><circle cx="574.1" cy="1577.4" r="5.2"/><circle cx="574.1" cy="1625.3" r="5.2"/><circle cx="574.1" cy="1652.5" r="5.2"/><circle cx="574.1" cy="1663.3" r="5.2"/></g>
<text x="49.4" y="1563.2" font-size="30" text-anchor="middle" fill="#111" textLength="252" lengthAdjust="spacingAndGlyphs" transform="rotate(-90 49.4 1563.2)" >Parameter Value</text>
<text x="349" y="1868" font-size="31.5" text-anchor="middle" fill="#111" textLength="326" lengthAdjust="spacingAndGlyphs" stroke="#111" stroke-width="0.5">Event Stress Ratings</text>
</g>
<g id="chartDR">
<path d="M755.5 1347.5V1804H1315" fill="none" stroke="#5e5e5e" stroke-width="1.9"/>
<path d="M755.5 1777.2h5M755.5 1723.5h5M755.5 1669.7h5M755.5 1616.0h5M755.5 1562.2h5M755.5 1508.5h5M755.5 1454.7h5M755.5 1401.0h5M755.5 1347.2h5M794.0 1804v-5M874.3 1804v-5M954.6 1804v-5M1034.8 1804v-5M1115.1 1804v-5M1195.4 1804v-5M1275.7 1804v-5" stroke="#5e5e5e" stroke-width="1.5" fill="none"/>
<text x="746.5" y="1782.8" font-size="14.5" text-anchor="end" fill="#6e6e6e" textLength="28" lengthAdjust="spacingAndGlyphs" >-0.4</text>
<text x="746.5" y="1729.0" font-size="14.5" text-anchor="end" fill="#6e6e6e" textLength="28" lengthAdjust="spacingAndGlyphs" >-0.3</text>
<text x="746.5" y="1675.3" font-size="14.5" text-anchor="end" fill="#6e6e6e" textLength="28" lengthAdjust="spacingAndGlyphs" >-0.2</text>
<text x="746.5" y="1621.5" font-size="14.5" text-anchor="end" fill="#6e6e6e" textLength="28" lengthAdjust="spacingAndGlyphs" >-0.1</text>
<text x="746.5" y="1567.8" font-size="14.5" text-anchor="end" fill="#6e6e6e" >0</text>
<text x="746.5" y="1514.0" font-size="14.5" text-anchor="end" fill="#6e6e6e" textLength="23" lengthAdjust="spacingAndGlyphs" >0.1</text>
<text x="746.5" y="1460.3" font-size="14.5" text-anchor="end" fill="#6e6e6e" textLength="23" lengthAdjust="spacingAndGlyphs" >0.2</text>
<text x="746.5" y="1406.5" font-size="14.5" text-anchor="end" fill="#6e6e6e" textLength="23" lengthAdjust="spacingAndGlyphs" >0.3</text>
<text x="746.5" y="1352.8" font-size="14.5" text-anchor="end" fill="#6e6e6e" textLength="23" lengthAdjust="spacingAndGlyphs" >0.4</text>
<text x="794.0" y="1830.5" font-size="14.5" text-anchor="middle" fill="#6e6e6e" >0</text>
<text x="874.3" y="1830.5" font-size="14.5" text-anchor="middle" fill="#6e6e6e" >1</text>
<text x="954.6" y="1830.5" font-size="14.5" text-anchor="middle" fill="#6e6e6e" >2</text>
<text x="1034.8" y="1830.5" font-size="14.5" text-anchor="middle" fill="#6e6e6e" >3</text>
<text x="1115.1" y="1830.5" font-size="14.5" text-anchor="middle" fill="#6e6e6e" >4</text>
<text x="1195.4" y="1830.5" font-size="14.5" text-anchor="middle" fill="#6e6e6e" >5</text>
<text x="1275.7" y="1830.5" font-size="14.5" text-anchor="middle" fill="#6e6e6e" >6</text>
<path d="M795 1644.8L1275.7 1616.1" stroke="#6a6a6a" stroke-width="2" fill="none"/>
<g fill="#0a0af5"><circle cx="794.0" cy="1541.4" r="5.2"/><circle cx="794.0" cy="1588" r="5.2"/><circle cx="794.0" cy="1602.6" r="5.2"/><circle cx="794.0" cy="1616.7" r="5.2"/><circle cx="794.0" cy="1625.5" r="5.2"/><circle cx="794.0" cy="1635.6" r="5.2"/><circle cx="794.0" cy="1664.8" r="5.2"/><circle cx="794.0" cy="1687" r="5.2"/><circle cx="794.0" cy="1713" r="5.2"/><circle cx="794.0" cy="1781.2" r="5.2"/><circle cx="874.3" cy="1449.4" r="5.2"/><circle cx="874.3" cy="1661.6" r="5.2"/><circle cx="874.3" cy="1719.5" r="5.2"/><circle cx="954.6" cy="1584.2" r="5.2"/><circle cx="954.6" cy="1650.8" r="5.2"/><circle cx="954.6" cy="1694" r="5.2"/><circle cx="954.6" cy="1717.3" r="5.2"/><circle cx="1034.8" cy="1604.2" r="5.2"/><circle cx="1115.1" cy="1575" r="5.2"/><circle cx="1115.1" cy="1632.9" r="5.2"/></g>
<text x="702.5" y="1559.5" font-size="31.5" text-anchor="middle" fill="#111" textLength="240" lengthAdjust="spacingAndGlyphs" transform="rotate(-90 702.5 1559.5)" >Parameter Value</text>
<text x="1034.3" y="1867.4" font-size="32.5" text-anchor="middle" fill="#111" textLength="326" lengthAdjust="spacingAndGlyphs" stroke="#111" stroke-width="0.5">Event Stress Ratings</text>
</g>
</g>
</svg>
</body></html>
